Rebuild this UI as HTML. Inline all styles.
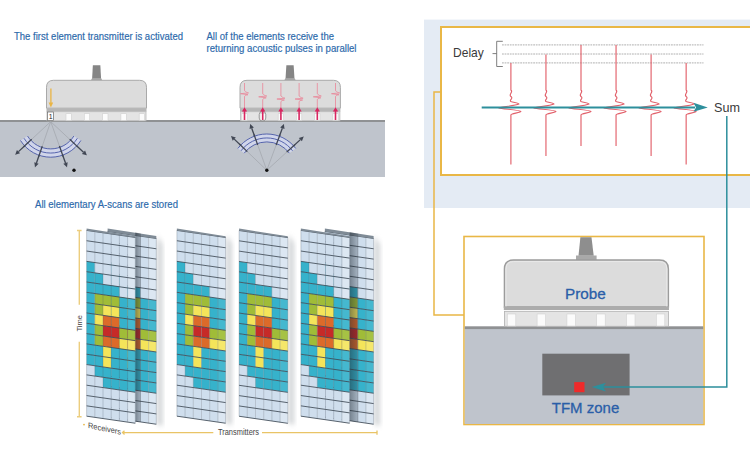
<!DOCTYPE html><html><head><meta charset="utf-8"><style>html,body{margin:0;padding:0;background:#fff;width:750px;height:474px;overflow:hidden;position:relative}</style></head><body><svg width="750" height="474" viewBox="0 0 750 474" style="position:absolute;left:0;top:0"><defs><marker id="ah" viewBox="0 0 10 10" refX="9" refY="5" markerWidth="4" markerHeight="4" orient="auto"><path d="M0,0 L10,5 L0,10 z" fill="#3d4350"/></marker><filter id="blur1" x="-50%" y="-10%" width="200%" height="120%"><feGaussianBlur stdDeviation="2.5"/></filter><linearGradient id="shg" x1="0" y1="0" x2="1" y2="0"><stop offset="0" stop-color="#1c2630" stop-opacity="0.5"/><stop offset="1" stop-color="#1c2630" stop-opacity="0.22"/></linearGradient></defs><text x="14" y="40.3" font-family='"Liberation Sans", sans-serif' font-size="10.7" fill="#2c69ab" stroke="#2c69ab" stroke-width="0.18" textLength="169" lengthAdjust="spacingAndGlyphs">The first element transmitter is activated</text><text x="206.5" y="40.2" font-family='"Liberation Sans", sans-serif' font-size="10.7" fill="#2c69ab" stroke="#2c69ab" stroke-width="0.18" textLength="127.5" lengthAdjust="spacingAndGlyphs">All of the elements receive the</text><text x="206.5" y="51.8" font-family='"Liberation Sans", sans-serif' font-size="10.7" fill="#2c69ab" stroke="#2c69ab" stroke-width="0.18" textLength="150" lengthAdjust="spacingAndGlyphs">returning acoustic pulses in parallel</text><rect x="0" y="121" width="385" height="56" fill="#bfc4cc"/><rect x="0" y="120" width="385" height="2" fill="#8f9193"/><path d="M92.85,65.2 L100.35,65.2 L101.05,78.3 L92.14999999999999,78.3 Z" fill="#858585"/><path d="M90.64999999999999,80.8 L92.14999999999999,78.1 L101.05,78.1 L102.55,80.8 Z" fill="#a4a4a4"/><path d="M46.5,108.2 L46.5,87.3 Q46.5,80.3 53.5,80.3 L139.5,80.3 Q146.5,80.3 146.5,87.3 L146.5,108.2 Z" fill="#dcdcdc" stroke="#a9a9a9" stroke-width="1"/><rect x="46.5" y="108.2" width="100" height="3.5" fill="#b6b6b6"/><rect x="47.0" y="111.7" width="99" height="9.099999999999994" fill="#e4e4e4" stroke="#b9b9b9" stroke-width="0.8"/><rect x="47.7" y="113.7" width="5.4" height="6.599999999999994" fill="#fbfbfb" stroke="#d0d0d0" stroke-width="0.6"/><rect x="66.0" y="113.7" width="5.4" height="6.599999999999994" fill="#fbfbfb" stroke="#d0d0d0" stroke-width="0.6"/><rect x="84.30000000000001" y="113.7" width="5.4" height="6.599999999999994" fill="#fbfbfb" stroke="#d0d0d0" stroke-width="0.6"/><rect x="102.60000000000001" y="113.7" width="5.4" height="6.599999999999994" fill="#fbfbfb" stroke="#d0d0d0" stroke-width="0.6"/><rect x="120.9" y="113.7" width="5.4" height="6.599999999999994" fill="#fbfbfb" stroke="#d0d0d0" stroke-width="0.6"/><rect x="139.2" y="113.7" width="5.4" height="6.599999999999994" fill="#fbfbfb" stroke="#d0d0d0" stroke-width="0.6"/><rect x="47.5" y="112" width="6" height="8.6" fill="#ffffff" stroke="#6a6a6a" stroke-width="0.7"/><text x="48.8" y="119.3" font-family='"Liberation Sans", sans-serif' font-size="7" fill="#222">1</text><line x1="50.9" y1="88.5" x2="50.9" y2="103" stroke="#eab545" stroke-width="1.3"/><path d="M48.6,102.5 L53.2,102.5 L50.9,107.5 Z" fill="#eab545"/><line x1="50.7" y1="121.6" x2="15.2" y2="154.7" stroke="#a3a7ae" stroke-width="0.75"/><line x1="30.95" y1="140.01" x2="18.49" y2="151.63" stroke="#414754" stroke-width="1.3"/><path d="M15.20,154.70 L16.92,149.95 L20.06,153.31 Z" fill="#414754"/><line x1="50.7" y1="121.6" x2="35" y2="167.3" stroke="#a3a7ae" stroke-width="0.75"/><line x1="41.93" y1="147.14" x2="36.46" y2="163.04" stroke="#414754" stroke-width="1.3"/><path d="M35.00,167.30 L34.29,162.30 L38.64,163.79 Z" fill="#414754"/><line x1="50.7" y1="121.6" x2="67" y2="167.3" stroke="#a3a7ae" stroke-width="0.75"/><line x1="59.77" y1="147.03" x2="65.49" y2="163.06" stroke="#414754" stroke-width="1.3"/><path d="M67.00,167.30 L63.32,163.83 L67.65,162.29 Z" fill="#414754"/><line x1="50.7" y1="121.6" x2="86.8" y2="155.3" stroke="#a3a7ae" stroke-width="0.75"/><line x1="70.44" y1="140.02" x2="83.51" y2="152.23" stroke="#414754" stroke-width="1.3"/><path d="M86.80,155.30 L81.94,153.91 L85.08,150.55 Z" fill="#414754"/><path d="M77.37,138.27 A31.450000000000003,31.450000000000003 0 0 1 24.03,138.27" fill="none" stroke="#d0d5ea" stroke-width="8.3"/><path d="M73.85,136.07 A27.3,27.3 0 0 1 27.55,136.07" fill="none" stroke="#4f5eaa" stroke-width="0.95"/><path d="M77.37,138.27 A31.450000000000003,31.450000000000003 0 0 1 24.03,138.27" fill="none" stroke="#4f5eaa" stroke-width="0.95"/><path d="M80.89,140.47 A35.6,35.6 0 0 1 20.51,140.47" fill="none" stroke="#4f5eaa" stroke-width="0.95"/><line x1="31.68" y1="139.33" x2="23.64" y2="146.83" stroke="#414754" stroke-width="1.3"/><line x1="42.25" y1="146.19" x2="38.68" y2="156.59" stroke="#414754" stroke-width="1.3"/><line x1="59.43" y1="146.09" x2="63.13" y2="156.45" stroke="#414754" stroke-width="1.3"/><line x1="69.71" y1="139.34" x2="77.75" y2="146.85" stroke="#414754" stroke-width="1.3"/><circle cx="74" cy="170.3" r="1.7" fill="#111"/><path d="M286.35,65.2 L293.65,65.2 L294.45,78.3 L285.55,78.3 Z" fill="#858585"/><path d="M284.05,80.8 L285.55,78.1 L294.45,78.1 L295.95,80.8 Z" fill="#a4a4a4"/><path d="M240,108.2 L240,87.3 Q240,80.3 247,80.3 L333.4,80.3 Q340.4,80.3 340.4,87.3 L340.4,108.2 Z" fill="#dcdcdc" stroke="#a9a9a9" stroke-width="1"/><rect x="240" y="108.2" width="100.4" height="3.5" fill="#b6b6b6"/><rect x="240.5" y="111.7" width="99.4" height="9.099999999999994" fill="#e4e4e4" stroke="#b9b9b9" stroke-width="0.8"/><rect x="241.8" y="113.7" width="5.4" height="6.599999999999994" fill="#fbfbfb" stroke="#d0d0d0" stroke-width="0.6"/><rect x="260.0" y="113.7" width="5.4" height="6.599999999999994" fill="#fbfbfb" stroke="#d0d0d0" stroke-width="0.6"/><rect x="278.2" y="113.7" width="5.4" height="6.599999999999994" fill="#fbfbfb" stroke="#d0d0d0" stroke-width="0.6"/><rect x="296.4" y="113.7" width="5.4" height="6.599999999999994" fill="#fbfbfb" stroke="#d0d0d0" stroke-width="0.6"/><rect x="314.6" y="113.7" width="5.4" height="6.599999999999994" fill="#fbfbfb" stroke="#d0d0d0" stroke-width="0.6"/><rect x="332.8" y="113.7" width="5.4" height="6.599999999999994" fill="#fbfbfb" stroke="#d0d0d0" stroke-width="0.6"/><rect x="259.2" y="111.5" width="6.6" height="9.5" rx="3" fill="none" stroke="#8c8c8c" stroke-width="0.8"/><path d="M244.5,83 L244.5,90.7 C246.0,91.7 246.5,92.7 248.5,92.9 L240.5,93.7 L248.0,94.7 C245.5,95.2 244.5,95.7 244.5,96.7 L244.5,108" fill="none" stroke="#e98a9c" stroke-width="0.85"/><path d="M241.9,111.6 L244.5,107.3 L247.1,111.6 Z" fill="#d92560"/><line x1="244.5" y1="110" x2="244.5" y2="120" stroke="#d92560" stroke-width="1.6"/><path d="M262.7,83 L262.7,93.8 C264.2,94.8 264.7,95.8 266.7,96.0 L258.7,96.8 L266.2,97.8 C263.7,98.3 262.7,98.8 262.7,99.8 L262.7,108" fill="none" stroke="#e98a9c" stroke-width="0.85"/><path d="M260.09999999999997,111.6 L262.7,107.3 L265.3,111.6 Z" fill="#d92560"/><line x1="262.7" y1="110" x2="262.7" y2="120" stroke="#d92560" stroke-width="1.6"/><path d="M280.9,83 L280.9,96 C282.4,97 282.9,98 284.9,98.2 L276.9,99 L284.4,100 C281.9,100.5 280.9,101 280.9,102 L280.9,108" fill="none" stroke="#e98a9c" stroke-width="0.85"/><path d="M278.29999999999995,111.6 L280.9,107.3 L283.5,111.6 Z" fill="#d92560"/><line x1="280.9" y1="110" x2="280.9" y2="120" stroke="#d92560" stroke-width="1.6"/><path d="M299.1,83 L299.1,96 C300.6,97 301.1,98 303.1,98.2 L295.1,99 L302.6,100 C300.1,100.5 299.1,101 299.1,102 L299.1,108" fill="none" stroke="#e98a9c" stroke-width="0.85"/><path d="M296.5,111.6 L299.1,107.3 L301.70000000000005,111.6 Z" fill="#d92560"/><line x1="299.1" y1="110" x2="299.1" y2="120" stroke="#d92560" stroke-width="1.6"/><path d="M317.3,83 L317.3,93.8 C318.8,94.8 319.3,95.8 321.3,96.0 L313.3,96.8 L320.8,97.8 C318.3,98.3 317.3,98.8 317.3,99.8 L317.3,108" fill="none" stroke="#e98a9c" stroke-width="0.85"/><path d="M314.7,111.6 L317.3,107.3 L319.90000000000003,111.6 Z" fill="#d92560"/><line x1="317.3" y1="110" x2="317.3" y2="120" stroke="#d92560" stroke-width="1.6"/><path d="M335.5,83 L335.5,90.7 C337.0,91.7 337.5,92.7 339.5,92.9 L331.5,93.7 L339.0,94.7 C336.5,95.2 335.5,95.7 335.5,96.7 L335.5,108" fill="none" stroke="#e98a9c" stroke-width="0.85"/><path d="M332.9,111.6 L335.5,107.3 L338.1,111.6 Z" fill="#d92560"/><line x1="335.5" y1="110" x2="335.5" y2="120" stroke="#d92560" stroke-width="1.6"/><line x1="266.8" y1="170.3" x2="231" y2="136" stroke="#a3a7ae" stroke-width="0.75"/><line x1="246.58" y1="150.93" x2="234.25" y2="139.11" stroke="#414754" stroke-width="1.3"/><path d="M231.00,136.00 L235.84,137.45 L232.66,140.77 Z" fill="#414754"/><line x1="266.8" y1="170.3" x2="250.2" y2="124" stroke="#a3a7ae" stroke-width="0.75"/><line x1="257.35" y1="143.94" x2="251.72" y2="128.24" stroke="#414754" stroke-width="1.3"/><path d="M250.20,124.00 L253.88,127.46 L249.55,129.01 Z" fill="#414754"/><line x1="266.8" y1="170.3" x2="283.9" y2="124" stroke="#a3a7ae" stroke-width="0.75"/><line x1="276.50" y1="144.03" x2="282.34" y2="128.22" stroke="#414754" stroke-width="1.3"/><path d="M283.90,124.00 L284.50,129.02 L280.18,127.42 Z" fill="#414754"/><line x1="266.8" y1="170.3" x2="303.7" y2="136.6" stroke="#a3a7ae" stroke-width="0.75"/><line x1="287.48" y1="151.42" x2="300.38" y2="139.63" stroke="#414754" stroke-width="1.3"/><path d="M303.70,136.60 L301.93,141.33 L298.83,137.94 Z" fill="#414754"/><path d="M241.04,150.79 A32.25,32.25 0 0 1 292.56,150.79" fill="none" stroke="#d0d5ea" stroke-width="7.900000000000002"/><path d="M244.20,153.17 A28.3,28.3 0 0 1 289.40,153.17" fill="none" stroke="#4f5eaa" stroke-width="0.95"/><path d="M241.04,150.79 A32.25,32.25 0 0 1 292.56,150.79" fill="none" stroke="#4f5eaa" stroke-width="0.95"/><path d="M237.89,148.41 A36.2,36.2 0 0 1 295.71,148.41" fill="none" stroke="#4f5eaa" stroke-width="0.95"/><line x1="247.30" y1="151.62" x2="239.36" y2="144.01" stroke="#414754" stroke-width="1.3"/><line x1="257.69" y1="144.88" x2="253.98" y2="134.53" stroke="#414754" stroke-width="1.3"/><line x1="276.15" y1="144.97" x2="279.97" y2="134.65" stroke="#414754" stroke-width="1.3"/><line x1="286.74" y1="152.09" x2="294.86" y2="144.67" stroke="#414754" stroke-width="1.3"/><circle cx="266.8" cy="170.3" r="1.7" fill="#111"/><rect x="424" y="19.6" width="326" height="188.4" fill="#e4ebf4"/><rect x="441" y="27" width="312" height="148" fill="#ffffff" stroke="#e9b746" stroke-width="2"/><text x="453" y="56.8" font-family='"Liberation Sans", sans-serif' font-size="13" fill="#3a3a3a" textLength="30.8" lengthAdjust="spacingAndGlyphs">Delay</text><path d="M502.8,41.3 L496.7,41.3 L496.7,66.5 L502.8,66.5 M496.7,53.6 L492.5,53.6" fill="none" stroke="#707070" stroke-width="0.9"/><line x1="502" y1="44.9" x2="703.5" y2="44.9" stroke="#9c9c9c" stroke-width="0.8" stroke-dasharray="1.8,0.8"/><line x1="502" y1="54" x2="703.5" y2="54" stroke="#9c9c9c" stroke-width="0.8" stroke-dasharray="1.8,0.8"/><line x1="502" y1="62.9" x2="703.5" y2="62.9" stroke="#9c9c9c" stroke-width="0.8" stroke-dasharray="1.8,0.8"/><path d="M510.9,63 L510.9,90 C513.6999999999999,92 508.09999999999997,94.5 510.9,96.5 C513.6999999999999,98.5 508.9,100 510.9,101.5 C513.9,102.5 518.9,103 518.9,104 C514.9,106 498.9,107 498.9,108 C500.9,109 520.9,110 520.9,111.5 C518.9,113 510.9,113.5 510.9,115 L510.9,164.6" fill="none" stroke="#e2616b" stroke-width="1.15"/><path d="M545.9499999999999,54.5 L545.9499999999999,90 C548.7499999999999,92 543.15,94.5 545.9499999999999,96.5 C548.7499999999999,98.5 543.9499999999999,100 545.9499999999999,101.5 C548.9499999999999,102.5 553.9499999999999,103 553.9499999999999,104 C549.9499999999999,106 533.9499999999999,107 533.9499999999999,108 C535.9499999999999,109 555.9499999999999,110 555.9499999999999,111.5 C553.9499999999999,113 545.9499999999999,113.5 545.9499999999999,115 L545.9499999999999,156" fill="none" stroke="#e2616b" stroke-width="1.15"/><path d="M581.0,45 L581.0,90 C583.8,92 578.2,94.5 581.0,96.5 C583.8,98.5 579.0,100 581.0,101.5 C584.0,102.5 589.0,103 589.0,104 C585.0,106 569.0,107 569.0,108 C571.0,109 591.0,110 591.0,111.5 C589.0,113 581.0,113.5 581.0,115 L581.0,146" fill="none" stroke="#e2616b" stroke-width="1.15"/><path d="M616.05,45 L616.05,90 C618.8499999999999,92 613.25,94.5 616.05,96.5 C618.8499999999999,98.5 614.05,100 616.05,101.5 C619.05,102.5 624.05,103 624.05,104 C620.05,106 604.05,107 604.05,108 C606.05,109 626.05,110 626.05,111.5 C624.05,113 616.05,113.5 616.05,115 L616.05,146" fill="none" stroke="#e2616b" stroke-width="1.15"/><path d="M651.0999999999999,54.5 L651.0999999999999,90 C653.8999999999999,92 648.3,94.5 651.0999999999999,96.5 C653.8999999999999,98.5 649.0999999999999,100 651.0999999999999,101.5 C654.0999999999999,102.5 659.0999999999999,103 659.0999999999999,104 C655.0999999999999,106 639.0999999999999,107 639.0999999999999,108 C641.0999999999999,109 661.0999999999999,110 661.0999999999999,111.5 C659.0999999999999,113 651.0999999999999,113.5 651.0999999999999,115 L651.0999999999999,156" fill="none" stroke="#e2616b" stroke-width="1.15"/><path d="M686.15,63 L686.15,90 C688.9499999999999,92 683.35,94.5 686.15,96.5 C688.9499999999999,98.5 684.15,100 686.15,101.5 C689.15,102.5 694.15,103 694.15,104 C690.15,106 674.15,107 674.15,108 C676.15,109 696.15,110 696.15,111.5 C694.15,113 686.15,113.5 686.15,115 L686.15,164.6" fill="none" stroke="#e2616b" stroke-width="1.15"/><line x1="481.7" y1="107.6" x2="695" y2="107.6" stroke="#2d8f9c" stroke-width="2"/><path d="M693.5,102.8 L707.8,107.4 L693.5,111.8 L696,107.4 Z" fill="#2d8f9c"/><text x="714" y="111.6" font-family='"Liberation Sans", sans-serif' font-size="12.6" fill="#3a3a3a">Sum</text><path d="M441,92 L434,92 L434,315 L464,315" fill="none" stroke="#e9b746" stroke-width="1.5"/><rect x="464" y="236.5" width="240" height="188" fill="#ffffff" stroke="#e9b746" stroke-width="1.6"/><rect x="464.8" y="327" width="238.4" height="97" fill="#bfc4cc"/><rect x="464.8" y="326.3" width="238.4" height="2.8" fill="#8f9193"/><path d="M580.4,237.3 L591.5,237.3 L593.7,255.8 L578.5,255.8 Z" fill="#8e8e8e"/><rect x="576" y="255.5" width="20.6" height="4.5" fill="#a9a9a9"/><path d="M504.4,307 L504.4,269 Q504.4,260 513.4,260 L659.4,260 Q668.4,260 668.4,269 L668.4,307 Z" fill="#dcdcdc" stroke="#9c9c9c" stroke-width="1.4"/><path d="M506.0,307 L506.0,269 Q506.0,261.6 513.4,261.6 L659.4,261.6 Q666.8,261.6 666.8,269 L666.8,307" fill="none" stroke="#ececec" stroke-width="0.8"/><rect x="503.79999999999995" y="306.5" width="165.2" height="3.5" fill="#acacac"/><rect x="504.4" y="311.3" width="164" height="15" fill="#e4e4e4" stroke="#b0b0b0" stroke-width="0.8"/><rect x="507.3" y="314" width="8.5" height="12" fill="#fbfbfb" stroke="#d2d2d2" stroke-width="0.6"/><rect x="537.1" y="314" width="8.5" height="12" fill="#fbfbfb" stroke="#d2d2d2" stroke-width="0.6"/><rect x="566.9" y="314" width="8.5" height="12" fill="#fbfbfb" stroke="#d2d2d2" stroke-width="0.6"/><rect x="596.7" y="314" width="8.5" height="12" fill="#fbfbfb" stroke="#d2d2d2" stroke-width="0.6"/><rect x="626.5" y="314" width="8.5" height="12" fill="#fbfbfb" stroke="#d2d2d2" stroke-width="0.6"/><rect x="656.3" y="314" width="8.5" height="12" fill="#fbfbfb" stroke="#d2d2d2" stroke-width="0.6"/><text x="565" y="298.5" font-family='"Liberation Sans", sans-serif' font-size="15.3" fill="#2a5ea8" stroke="#2a5ea8" stroke-width="0.3">Probe</text><rect x="542.3" y="353.7" width="87.3" height="41.7" fill="#6f6f71"/><rect x="574.2" y="382.1" width="10.3" height="10.1" fill="#ef2a2a"/><path d="M726.8,116 L726.8,386.9 L600,386.9" fill="none" stroke="#2d8f9c" stroke-width="1.5"/><path d="M591.7,387 L605.9,382.7 L603,387 L605.9,391.6 Z" fill="#2d8f9c"/><text x="551.8" y="413" font-family='"Liberation Sans", sans-serif' font-size="15.3" fill="#2a5ea8" stroke="#2a5ea8" stroke-width="0.3" textLength="67.5" lengthAdjust="spacingAndGlyphs">TFM zone</text><text x="35" y="208" font-family='"Liberation Sans", sans-serif' font-size="10.7" fill="#2c69ab" stroke="#2c69ab" stroke-width="0.18" textLength="143" lengthAdjust="spacingAndGlyphs">All elementary A-scans are stored</text><path d="M157.3,235.4 L162.3,244.4615 L162.3,426.2215 L157.3,424.2215 Z" fill="#9aa0a6" opacity="0.5" filter="url(#blur1)"/><path d="M107.60,231.40 L115.80,232.59 L115.80,242.91 L107.60,241.72 Z" fill="#cfdeed"/><path d="M115.80,232.59 L124.00,233.78 L124.00,244.10 L115.80,242.91 Z" fill="#cfdeed"/><path d="M124.00,233.78 L132.20,234.97 L132.20,245.29 L124.00,244.10 Z" fill="#cfdeed"/><path d="M132.20,234.97 L140.40,236.16 L140.40,246.48 L132.20,245.29 Z" fill="#cfdeed"/><path d="M140.40,236.16 L148.60,237.34 L148.60,247.66 L140.40,246.48 Z" fill="#cfdeed"/><path d="M148.60,237.34 L156.30,238.46 L156.30,248.78 L148.60,247.66 Z" fill="#dce7f2"/><path d="M107.60,241.72 L115.80,242.91 L115.80,253.23 L107.60,252.04 Z" fill="#cfdeed"/><path d="M115.80,242.91 L124.00,244.10 L124.00,254.42 L115.80,253.23 Z" fill="#cfdeed"/><path d="M124.00,244.10 L132.20,245.29 L132.20,255.61 L124.00,254.42 Z" fill="#cfdeed"/><path d="M132.20,245.29 L140.40,246.48 L140.40,256.80 L132.20,255.61 Z" fill="#cfdeed"/><path d="M140.40,246.48 L148.60,247.66 L148.60,257.99 L140.40,256.80 Z" fill="#cfdeed"/><path d="M148.60,247.66 L156.30,248.78 L156.30,259.10 L148.60,257.99 Z" fill="#dce7f2"/><path d="M107.60,252.04 L115.80,253.23 L115.80,263.55 L107.60,262.36 Z" fill="#cfdeed"/><path d="M115.80,253.23 L124.00,254.42 L124.00,264.74 L115.80,263.55 Z" fill="#cfdeed"/><path d="M124.00,254.42 L132.20,255.61 L132.20,265.93 L124.00,264.74 Z" fill="#cfdeed"/><path d="M132.20,255.61 L140.40,256.80 L140.40,267.12 L132.20,265.93 Z" fill="#cfdeed"/><path d="M140.40,256.80 L148.60,257.99 L148.60,268.31 L140.40,267.12 Z" fill="#cfdeed"/><path d="M148.60,257.99 L156.30,259.10 L156.30,269.42 L148.60,268.31 Z" fill="#dce7f2"/><path d="M107.60,262.36 L115.80,263.55 L115.80,273.87 L107.60,272.68 Z" fill="#36b2cb"/><path d="M115.80,263.55 L124.00,264.74 L124.00,275.06 L115.80,273.87 Z" fill="#cfdeed"/><path d="M124.00,264.74 L132.20,265.93 L132.20,276.25 L124.00,275.06 Z" fill="#cfdeed"/><path d="M132.20,265.93 L140.40,267.12 L140.40,277.44 L132.20,276.25 Z" fill="#cfdeed"/><path d="M140.40,267.12 L148.60,268.31 L148.60,278.62 L140.40,277.44 Z" fill="#cfdeed"/><path d="M148.60,268.31 L156.30,269.42 L156.30,279.74 L148.60,278.62 Z" fill="#dce7f2"/><path d="M107.60,272.68 L115.80,273.87 L115.80,284.19 L107.60,283.00 Z" fill="#36b2cb"/><path d="M115.80,273.87 L124.00,275.06 L124.00,285.38 L115.80,284.19 Z" fill="#36b2cb"/><path d="M124.00,275.06 L132.20,276.25 L132.20,286.57 L124.00,285.38 Z" fill="#cfdeed"/><path d="M132.20,276.25 L140.40,277.44 L140.40,287.76 L132.20,286.57 Z" fill="#cfdeed"/><path d="M140.40,277.44 L148.60,278.62 L148.60,288.94 L140.40,287.76 Z" fill="#cfdeed"/><path d="M148.60,278.62 L156.30,279.74 L156.30,290.06 L148.60,288.94 Z" fill="#dce7f2"/><path d="M107.60,283.00 L115.80,284.19 L115.80,294.51 L107.60,293.32 Z" fill="#36b2cb"/><path d="M115.80,284.19 L124.00,285.38 L124.00,295.70 L115.80,294.51 Z" fill="#36b2cb"/><path d="M124.00,285.38 L132.20,286.57 L132.20,296.89 L124.00,295.70 Z" fill="#36b2cb"/><path d="M132.20,286.57 L140.40,287.76 L140.40,298.08 L132.20,296.89 Z" fill="#36b2cb"/><path d="M140.40,287.76 L148.60,288.94 L148.60,299.26 L140.40,298.08 Z" fill="#cfdeed"/><path d="M148.60,288.94 L156.30,290.06 L156.30,300.38 L148.60,299.26 Z" fill="#dce7f2"/><path d="M107.60,293.32 L115.80,294.51 L115.80,304.83 L107.60,303.64 Z" fill="#36b2cb"/><path d="M115.80,294.51 L124.00,295.70 L124.00,306.02 L115.80,304.83 Z" fill="#a0bc38"/><path d="M124.00,295.70 L132.20,296.89 L132.20,307.21 L124.00,306.02 Z" fill="#a0bc38"/><path d="M132.20,296.89 L140.40,298.08 L140.40,308.40 L132.20,307.21 Z" fill="#a0bc38"/><path d="M140.40,298.08 L148.60,299.26 L148.60,309.58 L140.40,308.40 Z" fill="#36b2cb"/><path d="M148.60,299.26 L156.30,300.38 L156.30,310.70 L148.60,309.58 Z" fill="#45b8cf"/><path d="M107.60,303.64 L115.80,304.83 L115.80,315.15 L107.60,313.96 Z" fill="#36b2cb"/><path d="M115.80,304.83 L124.00,306.02 L124.00,316.34 L115.80,315.15 Z" fill="#a0bc38"/><path d="M124.00,306.02 L132.20,307.21 L132.20,317.53 L124.00,316.34 Z" fill="#f4e45a"/><path d="M132.20,307.21 L140.40,308.40 L140.40,318.72 L132.20,317.53 Z" fill="#f4e45a"/><path d="M140.40,308.40 L148.60,309.58 L148.60,319.90 L140.40,318.72 Z" fill="#36b2cb"/><path d="M148.60,309.58 L156.30,310.70 L156.30,321.02 L148.60,319.90 Z" fill="#45b8cf"/><path d="M107.60,313.96 L115.80,315.15 L115.80,325.47 L107.60,324.28 Z" fill="#36b2cb"/><path d="M115.80,315.15 L124.00,316.34 L124.00,326.66 L115.80,325.47 Z" fill="#f4e45a"/><path d="M124.00,316.34 L132.20,317.53 L132.20,327.85 L124.00,326.66 Z" fill="#dc6a2a"/><path d="M132.20,317.53 L140.40,318.72 L140.40,329.04 L132.20,327.85 Z" fill="#dc6a2a"/><path d="M140.40,318.72 L148.60,319.91 L148.60,330.23 L140.40,329.04 Z" fill="#36b2cb"/><path d="M148.60,319.91 L156.30,321.02 L156.30,331.34 L148.60,330.23 Z" fill="#45b8cf"/><path d="M107.60,324.28 L115.80,325.47 L115.80,335.79 L107.60,334.60 Z" fill="#36b2cb"/><path d="M115.80,325.47 L124.00,326.66 L124.00,336.98 L115.80,335.79 Z" fill="#a0bc38"/><path d="M124.00,326.66 L132.20,327.85 L132.20,338.17 L124.00,336.98 Z" fill="#c62a28"/><path d="M132.20,327.85 L140.40,329.04 L140.40,339.36 L132.20,338.17 Z" fill="#c62a28"/><path d="M140.40,329.04 L148.60,330.22 L148.60,340.54 L140.40,339.36 Z" fill="#a0bc38"/><path d="M148.60,330.22 L156.30,331.34 L156.30,341.66 L148.60,340.54 Z" fill="#a6c244"/><path d="M107.60,334.60 L115.80,335.79 L115.80,346.11 L107.60,344.92 Z" fill="#36b2cb"/><path d="M115.80,335.79 L124.00,336.98 L124.00,347.30 L115.80,346.11 Z" fill="#a0bc38"/><path d="M124.00,336.98 L132.20,338.17 L132.20,348.49 L124.00,347.30 Z" fill="#dc6a2a"/><path d="M132.20,338.17 L140.40,339.36 L140.40,349.68 L132.20,348.49 Z" fill="#dc6a2a"/><path d="M140.40,339.36 L148.60,340.55 L148.60,350.87 L140.40,349.68 Z" fill="#f4e45a"/><path d="M148.60,340.55 L156.30,341.66 L156.30,351.98 L148.60,350.87 Z" fill="#f5e76a"/><path d="M107.60,344.92 L115.80,346.11 L115.80,356.43 L107.60,355.24 Z" fill="#36b2cb"/><path d="M115.80,346.11 L124.00,347.30 L124.00,357.62 L115.80,356.43 Z" fill="#36b2cb"/><path d="M124.00,347.30 L132.20,348.49 L132.20,358.81 L124.00,357.62 Z" fill="#f4e45a"/><path d="M132.20,348.49 L140.40,349.68 L140.40,360.00 L132.20,358.81 Z" fill="#36b2cb"/><path d="M140.40,349.68 L148.60,350.87 L148.60,361.19 L140.40,360.00 Z" fill="#36b2cb"/><path d="M148.60,350.87 L156.30,351.98 L156.30,362.30 L148.60,361.19 Z" fill="#45b8cf"/><path d="M107.60,355.24 L115.80,356.43 L115.80,366.75 L107.60,365.56 Z" fill="#36b2cb"/><path d="M115.80,356.43 L124.00,357.62 L124.00,367.94 L115.80,366.75 Z" fill="#36b2cb"/><path d="M124.00,357.62 L132.20,358.81 L132.20,369.13 L124.00,367.94 Z" fill="#f4e45a"/><path d="M132.20,358.81 L140.40,360.00 L140.40,370.32 L132.20,369.13 Z" fill="#36b2cb"/><path d="M140.40,360.00 L148.60,361.19 L148.60,371.50 L140.40,370.32 Z" fill="#36b2cb"/><path d="M148.60,361.19 L156.30,362.30 L156.30,372.62 L148.60,371.50 Z" fill="#45b8cf"/><path d="M107.60,365.56 L115.80,366.75 L115.80,377.07 L107.60,375.88 Z" fill="#cfdeed"/><path d="M115.80,366.75 L124.00,367.94 L124.00,378.26 L115.80,377.07 Z" fill="#36b2cb"/><path d="M124.00,367.94 L132.20,369.13 L132.20,379.45 L124.00,378.26 Z" fill="#36b2cb"/><path d="M132.20,369.13 L140.40,370.32 L140.40,380.64 L132.20,379.45 Z" fill="#36b2cb"/><path d="M140.40,370.32 L148.60,371.50 L148.60,381.82 L140.40,380.64 Z" fill="#36b2cb"/><path d="M148.60,371.50 L156.30,372.62 L156.30,382.94 L148.60,381.82 Z" fill="#45b8cf"/><path d="M107.60,375.88 L115.80,377.07 L115.80,387.39 L107.60,386.20 Z" fill="#cfdeed"/><path d="M115.80,377.07 L124.00,378.26 L124.00,388.58 L115.80,387.39 Z" fill="#cfdeed"/><path d="M124.00,378.26 L132.20,379.45 L132.20,389.77 L124.00,388.58 Z" fill="#36b2cb"/><path d="M132.20,379.45 L140.40,380.64 L140.40,390.96 L132.20,389.77 Z" fill="#36b2cb"/><path d="M140.40,380.64 L148.60,381.82 L148.60,392.14 L140.40,390.96 Z" fill="#36b2cb"/><path d="M148.60,381.82 L156.30,382.94 L156.30,393.26 L148.60,392.14 Z" fill="#45b8cf"/><path d="M107.60,386.20 L115.80,387.39 L115.80,397.71 L107.60,396.52 Z" fill="#cfdeed"/><path d="M115.80,387.39 L124.00,388.58 L124.00,398.90 L115.80,397.71 Z" fill="#cfdeed"/><path d="M124.00,388.58 L132.20,389.77 L132.20,400.09 L124.00,398.90 Z" fill="#cfdeed"/><path d="M132.20,389.77 L140.40,390.96 L140.40,401.28 L132.20,400.09 Z" fill="#cfdeed"/><path d="M140.40,390.96 L148.60,392.15 L148.60,402.47 L140.40,401.28 Z" fill="#cfdeed"/><path d="M148.60,392.15 L156.30,393.26 L156.30,403.58 L148.60,402.47 Z" fill="#dce7f2"/><path d="M107.60,396.52 L115.80,397.71 L115.80,408.03 L107.60,406.84 Z" fill="#cfdeed"/><path d="M115.80,397.71 L124.00,398.90 L124.00,409.22 L115.80,408.03 Z" fill="#cfdeed"/><path d="M124.00,398.90 L132.20,400.09 L132.20,410.41 L124.00,409.22 Z" fill="#cfdeed"/><path d="M132.20,400.09 L140.40,401.28 L140.40,411.60 L132.20,410.41 Z" fill="#cfdeed"/><path d="M140.40,401.28 L148.60,402.46 L148.60,412.78 L140.40,411.60 Z" fill="#cfdeed"/><path d="M148.60,402.46 L156.30,403.58 L156.30,413.90 L148.60,412.78 Z" fill="#dce7f2"/><path d="M107.60,406.84 L115.80,408.03 L115.80,418.35 L107.60,417.16 Z" fill="#cfdeed"/><path d="M115.80,408.03 L124.00,409.22 L124.00,419.54 L115.80,418.35 Z" fill="#cfdeed"/><path d="M124.00,409.22 L132.20,410.41 L132.20,420.73 L124.00,419.54 Z" fill="#cfdeed"/><path d="M132.20,410.41 L140.40,411.60 L140.40,421.92 L132.20,420.73 Z" fill="#cfdeed"/><path d="M140.40,411.60 L148.60,412.79 L148.60,423.11 L140.40,421.92 Z" fill="#cfdeed"/><path d="M148.60,412.79 L156.30,413.90 L156.30,424.22 L148.60,423.11 Z" fill="#dce7f2"/><line x1="107.60" y1="231.40" x2="156.30" y2="238.46" stroke="#3e4a56" stroke-width="1.0" stroke-opacity="0.85"/><line x1="107.60" y1="241.72" x2="156.30" y2="248.78" stroke="#3e4a56" stroke-width="1.0" stroke-opacity="0.85"/><line x1="107.60" y1="252.04" x2="156.30" y2="259.10" stroke="#3e4a56" stroke-width="1.0" stroke-opacity="0.85"/><line x1="107.60" y1="262.36" x2="156.30" y2="269.42" stroke="#3e4a56" stroke-width="1.0" stroke-opacity="0.85"/><line x1="107.60" y1="272.68" x2="156.30" y2="279.74" stroke="#3e4a56" stroke-width="1.0" stroke-opacity="0.85"/><line x1="107.60" y1="283.00" x2="156.30" y2="290.06" stroke="#3e4a56" stroke-width="1.0" stroke-opacity="0.85"/><line x1="107.60" y1="293.32" x2="156.30" y2="300.38" stroke="#3e4a56" stroke-width="1.0" stroke-opacity="0.85"/><line x1="107.60" y1="303.64" x2="156.30" y2="310.70" stroke="#3e4a56" stroke-width="1.0" stroke-opacity="0.85"/><line x1="107.60" y1="313.96" x2="156.30" y2="321.02" stroke="#3e4a56" stroke-width="1.0" stroke-opacity="0.85"/><line x1="107.60" y1="324.28" x2="156.30" y2="331.34" stroke="#3e4a56" stroke-width="1.0" stroke-opacity="0.85"/><line x1="107.60" y1="334.60" x2="156.30" y2="341.66" stroke="#3e4a56" stroke-width="1.0" stroke-opacity="0.85"/><line x1="107.60" y1="344.92" x2="156.30" y2="351.98" stroke="#3e4a56" stroke-width="1.0" stroke-opacity="0.85"/><line x1="107.60" y1="355.24" x2="156.30" y2="362.30" stroke="#3e4a56" stroke-width="1.0" stroke-opacity="0.85"/><line x1="107.60" y1="365.56" x2="156.30" y2="372.62" stroke="#3e4a56" stroke-width="1.0" stroke-opacity="0.85"/><line x1="107.60" y1="375.88" x2="156.30" y2="382.94" stroke="#3e4a56" stroke-width="1.0" stroke-opacity="0.85"/><line x1="107.60" y1="386.20" x2="156.30" y2="393.26" stroke="#3e4a56" stroke-width="1.0" stroke-opacity="0.85"/><line x1="107.60" y1="396.52" x2="156.30" y2="403.58" stroke="#3e4a56" stroke-width="1.0" stroke-opacity="0.85"/><line x1="107.60" y1="406.84" x2="156.30" y2="413.90" stroke="#3e4a56" stroke-width="1.0" stroke-opacity="0.85"/><line x1="107.60" y1="417.16" x2="156.30" y2="424.22" stroke="#3e4a56" stroke-width="1.0" stroke-opacity="0.85"/><line x1="107.60" y1="231.40" x2="107.60" y2="417.16" stroke="#4a5866" stroke-width="0.5" stroke-opacity="0.5"/><line x1="115.80" y1="232.59" x2="115.80" y2="418.35" stroke="#4a5866" stroke-width="0.5" stroke-opacity="0.5"/><line x1="124.00" y1="233.78" x2="124.00" y2="419.54" stroke="#4a5866" stroke-width="0.5" stroke-opacity="0.5"/><line x1="132.20" y1="234.97" x2="132.20" y2="420.73" stroke="#4a5866" stroke-width="0.5" stroke-opacity="0.5"/><line x1="140.40" y1="236.16" x2="140.40" y2="421.92" stroke="#4a5866" stroke-width="0.5" stroke-opacity="0.5"/><line x1="148.60" y1="237.34" x2="148.60" y2="423.10" stroke="#4a5866" stroke-width="0.5" stroke-opacity="0.5"/><line x1="156.30" y1="238.46" x2="156.30" y2="424.22" stroke="#4a5866" stroke-width="0.5" stroke-opacity="0.5"/><path d="M107.60,228.60 L156.30,236.06 L156.30,238.46 L107.60,231.40 Z" fill="#7f8b96"/><path d="M135.30,232.62 L141.00,233.44 L141.00,422.00 L135.30,421.18 Z" fill="url(#shg)"/><path d="M86.60,230.40 L94.80,231.59 L94.80,241.91 L86.60,240.72 Z" fill="#cfdeed"/><path d="M94.80,231.59 L103.00,232.78 L103.00,243.10 L94.80,241.91 Z" fill="#cfdeed"/><path d="M103.00,232.78 L111.20,233.97 L111.20,244.29 L103.00,243.10 Z" fill="#cfdeed"/><path d="M111.20,233.97 L119.40,235.16 L119.40,245.48 L111.20,244.29 Z" fill="#cfdeed"/><path d="M119.40,235.16 L127.60,236.34 L127.60,246.66 L119.40,245.48 Z" fill="#cfdeed"/><path d="M127.60,236.34 L135.30,237.46 L135.30,247.78 L127.60,246.66 Z" fill="#dce7f2"/><path d="M86.60,240.72 L94.80,241.91 L94.80,252.23 L86.60,251.04 Z" fill="#cfdeed"/><path d="M94.80,241.91 L103.00,243.10 L103.00,253.42 L94.80,252.23 Z" fill="#cfdeed"/><path d="M103.00,243.10 L111.20,244.29 L111.20,254.61 L103.00,253.42 Z" fill="#cfdeed"/><path d="M111.20,244.29 L119.40,245.48 L119.40,255.80 L111.20,254.61 Z" fill="#cfdeed"/><path d="M119.40,245.48 L127.60,246.66 L127.60,256.99 L119.40,255.80 Z" fill="#cfdeed"/><path d="M127.60,246.66 L135.30,247.78 L135.30,258.10 L127.60,256.99 Z" fill="#dce7f2"/><path d="M86.60,251.04 L94.80,252.23 L94.80,262.55 L86.60,261.36 Z" fill="#cfdeed"/><path d="M94.80,252.23 L103.00,253.42 L103.00,263.74 L94.80,262.55 Z" fill="#cfdeed"/><path d="M103.00,253.42 L111.20,254.61 L111.20,264.93 L103.00,263.74 Z" fill="#cfdeed"/><path d="M111.20,254.61 L119.40,255.80 L119.40,266.12 L111.20,264.93 Z" fill="#cfdeed"/><path d="M119.40,255.80 L127.60,256.99 L127.60,267.31 L119.40,266.12 Z" fill="#cfdeed"/><path d="M127.60,256.99 L135.30,258.10 L135.30,268.42 L127.60,267.31 Z" fill="#dce7f2"/><path d="M86.60,261.36 L94.80,262.55 L94.80,272.87 L86.60,271.68 Z" fill="#36b2cb"/><path d="M94.80,262.55 L103.00,263.74 L103.00,274.06 L94.80,272.87 Z" fill="#cfdeed"/><path d="M103.00,263.74 L111.20,264.93 L111.20,275.25 L103.00,274.06 Z" fill="#cfdeed"/><path d="M111.20,264.93 L119.40,266.12 L119.40,276.44 L111.20,275.25 Z" fill="#cfdeed"/><path d="M119.40,266.12 L127.60,267.31 L127.60,277.62 L119.40,276.44 Z" fill="#cfdeed"/><path d="M127.60,267.31 L135.30,268.42 L135.30,278.74 L127.60,277.62 Z" fill="#dce7f2"/><path d="M86.60,271.68 L94.80,272.87 L94.80,283.19 L86.60,282.00 Z" fill="#36b2cb"/><path d="M94.80,272.87 L103.00,274.06 L103.00,284.38 L94.80,283.19 Z" fill="#36b2cb"/><path d="M103.00,274.06 L111.20,275.25 L111.20,285.57 L103.00,284.38 Z" fill="#cfdeed"/><path d="M111.20,275.25 L119.40,276.44 L119.40,286.76 L111.20,285.57 Z" fill="#cfdeed"/><path d="M119.40,276.44 L127.60,277.62 L127.60,287.94 L119.40,286.76 Z" fill="#cfdeed"/><path d="M127.60,277.62 L135.30,278.74 L135.30,289.06 L127.60,287.94 Z" fill="#dce7f2"/><path d="M86.60,282.00 L94.80,283.19 L94.80,293.51 L86.60,292.32 Z" fill="#36b2cb"/><path d="M94.80,283.19 L103.00,284.38 L103.00,294.70 L94.80,293.51 Z" fill="#36b2cb"/><path d="M103.00,284.38 L111.20,285.57 L111.20,295.89 L103.00,294.70 Z" fill="#36b2cb"/><path d="M111.20,285.57 L119.40,286.76 L119.40,297.08 L111.20,295.89 Z" fill="#36b2cb"/><path d="M119.40,286.76 L127.60,287.94 L127.60,298.26 L119.40,297.08 Z" fill="#cfdeed"/><path d="M127.60,287.94 L135.30,289.06 L135.30,299.38 L127.60,298.26 Z" fill="#dce7f2"/><path d="M86.60,292.32 L94.80,293.51 L94.80,303.83 L86.60,302.64 Z" fill="#36b2cb"/><path d="M94.80,293.51 L103.00,294.70 L103.00,305.02 L94.80,303.83 Z" fill="#a0bc38"/><path d="M103.00,294.70 L111.20,295.89 L111.20,306.21 L103.00,305.02 Z" fill="#a0bc38"/><path d="M111.20,295.89 L119.40,297.08 L119.40,307.40 L111.20,306.21 Z" fill="#a0bc38"/><path d="M119.40,297.08 L127.60,298.26 L127.60,308.58 L119.40,307.40 Z" fill="#36b2cb"/><path d="M127.60,298.26 L135.30,299.38 L135.30,309.70 L127.60,308.58 Z" fill="#45b8cf"/><path d="M86.60,302.64 L94.80,303.83 L94.80,314.15 L86.60,312.96 Z" fill="#36b2cb"/><path d="M94.80,303.83 L103.00,305.02 L103.00,315.34 L94.80,314.15 Z" fill="#a0bc38"/><path d="M103.00,305.02 L111.20,306.21 L111.20,316.53 L103.00,315.34 Z" fill="#f4e45a"/><path d="M111.20,306.21 L119.40,307.40 L119.40,317.72 L111.20,316.53 Z" fill="#f4e45a"/><path d="M119.40,307.40 L127.60,308.58 L127.60,318.90 L119.40,317.72 Z" fill="#36b2cb"/><path d="M127.60,308.58 L135.30,309.70 L135.30,320.02 L127.60,318.90 Z" fill="#45b8cf"/><path d="M86.60,312.96 L94.80,314.15 L94.80,324.47 L86.60,323.28 Z" fill="#36b2cb"/><path d="M94.80,314.15 L103.00,315.34 L103.00,325.66 L94.80,324.47 Z" fill="#f4e45a"/><path d="M103.00,315.34 L111.20,316.53 L111.20,326.85 L103.00,325.66 Z" fill="#dc6a2a"/><path d="M111.20,316.53 L119.40,317.72 L119.40,328.04 L111.20,326.85 Z" fill="#dc6a2a"/><path d="M119.40,317.72 L127.60,318.91 L127.60,329.23 L119.40,328.04 Z" fill="#36b2cb"/><path d="M127.60,318.91 L135.30,320.02 L135.30,330.34 L127.60,329.23 Z" fill="#45b8cf"/><path d="M86.60,323.28 L94.80,324.47 L94.80,334.79 L86.60,333.60 Z" fill="#36b2cb"/><path d="M94.80,324.47 L103.00,325.66 L103.00,335.98 L94.80,334.79 Z" fill="#a0bc38"/><path d="M103.00,325.66 L111.20,326.85 L111.20,337.17 L103.00,335.98 Z" fill="#c62a28"/><path d="M111.20,326.85 L119.40,328.04 L119.40,338.36 L111.20,337.17 Z" fill="#c62a28"/><path d="M119.40,328.04 L127.60,329.22 L127.60,339.54 L119.40,338.36 Z" fill="#a0bc38"/><path d="M127.60,329.22 L135.30,330.34 L135.30,340.66 L127.60,339.54 Z" fill="#a6c244"/><path d="M86.60,333.60 L94.80,334.79 L94.80,345.11 L86.60,343.92 Z" fill="#36b2cb"/><path d="M94.80,334.79 L103.00,335.98 L103.00,346.30 L94.80,345.11 Z" fill="#a0bc38"/><path d="M103.00,335.98 L111.20,337.17 L111.20,347.49 L103.00,346.30 Z" fill="#dc6a2a"/><path d="M111.20,337.17 L119.40,338.36 L119.40,348.68 L111.20,347.49 Z" fill="#dc6a2a"/><path d="M119.40,338.36 L127.60,339.55 L127.60,349.87 L119.40,348.68 Z" fill="#f4e45a"/><path d="M127.60,339.55 L135.30,340.66 L135.30,350.98 L127.60,349.87 Z" fill="#f5e76a"/><path d="M86.60,343.92 L94.80,345.11 L94.80,355.43 L86.60,354.24 Z" fill="#36b2cb"/><path d="M94.80,345.11 L103.00,346.30 L103.00,356.62 L94.80,355.43 Z" fill="#36b2cb"/><path d="M103.00,346.30 L111.20,347.49 L111.20,357.81 L103.00,356.62 Z" fill="#f4e45a"/><path d="M111.20,347.49 L119.40,348.68 L119.40,359.00 L111.20,357.81 Z" fill="#36b2cb"/><path d="M119.40,348.68 L127.60,349.87 L127.60,360.19 L119.40,359.00 Z" fill="#36b2cb"/><path d="M127.60,349.87 L135.30,350.98 L135.30,361.30 L127.60,360.19 Z" fill="#45b8cf"/><path d="M86.60,354.24 L94.80,355.43 L94.80,365.75 L86.60,364.56 Z" fill="#36b2cb"/><path d="M94.80,355.43 L103.00,356.62 L103.00,366.94 L94.80,365.75 Z" fill="#36b2cb"/><path d="M103.00,356.62 L111.20,357.81 L111.20,368.13 L103.00,366.94 Z" fill="#f4e45a"/><path d="M111.20,357.81 L119.40,359.00 L119.40,369.32 L111.20,368.13 Z" fill="#36b2cb"/><path d="M119.40,359.00 L127.60,360.19 L127.60,370.50 L119.40,369.32 Z" fill="#36b2cb"/><path d="M127.60,360.19 L135.30,361.30 L135.30,371.62 L127.60,370.50 Z" fill="#45b8cf"/><path d="M86.60,364.56 L94.80,365.75 L94.80,376.07 L86.60,374.88 Z" fill="#cfdeed"/><path d="M94.80,365.75 L103.00,366.94 L103.00,377.26 L94.80,376.07 Z" fill="#36b2cb"/><path d="M103.00,366.94 L111.20,368.13 L111.20,378.45 L103.00,377.26 Z" fill="#36b2cb"/><path d="M111.20,368.13 L119.40,369.32 L119.40,379.64 L111.20,378.45 Z" fill="#36b2cb"/><path d="M119.40,369.32 L127.60,370.50 L127.60,380.82 L119.40,379.64 Z" fill="#36b2cb"/><path d="M127.60,370.50 L135.30,371.62 L135.30,381.94 L127.60,380.82 Z" fill="#45b8cf"/><path d="M86.60,374.88 L94.80,376.07 L94.80,386.39 L86.60,385.20 Z" fill="#cfdeed"/><path d="M94.80,376.07 L103.00,377.26 L103.00,387.58 L94.80,386.39 Z" fill="#cfdeed"/><path d="M103.00,377.26 L111.20,378.45 L111.20,388.77 L103.00,387.58 Z" fill="#36b2cb"/><path d="M111.20,378.45 L119.40,379.64 L119.40,389.96 L111.20,388.77 Z" fill="#36b2cb"/><path d="M119.40,379.64 L127.60,380.82 L127.60,391.14 L119.40,389.96 Z" fill="#36b2cb"/><path d="M127.60,380.82 L135.30,381.94 L135.30,392.26 L127.60,391.14 Z" fill="#45b8cf"/><path d="M86.60,385.20 L94.80,386.39 L94.80,396.71 L86.60,395.52 Z" fill="#cfdeed"/><path d="M94.80,386.39 L103.00,387.58 L103.00,397.90 L94.80,396.71 Z" fill="#cfdeed"/><path d="M103.00,387.58 L111.20,388.77 L111.20,399.09 L103.00,397.90 Z" fill="#cfdeed"/><path d="M111.20,388.77 L119.40,389.96 L119.40,400.28 L111.20,399.09 Z" fill="#cfdeed"/><path d="M119.40,389.96 L127.60,391.15 L127.60,401.47 L119.40,400.28 Z" fill="#cfdeed"/><path d="M127.60,391.15 L135.30,392.26 L135.30,402.58 L127.60,401.47 Z" fill="#dce7f2"/><path d="M86.60,395.52 L94.80,396.71 L94.80,407.03 L86.60,405.84 Z" fill="#cfdeed"/><path d="M94.80,396.71 L103.00,397.90 L103.00,408.22 L94.80,407.03 Z" fill="#cfdeed"/><path d="M103.00,397.90 L111.20,399.09 L111.20,409.41 L103.00,408.22 Z" fill="#cfdeed"/><path d="M111.20,399.09 L119.40,400.28 L119.40,410.60 L111.20,409.41 Z" fill="#cfdeed"/><path d="M119.40,400.28 L127.60,401.46 L127.60,411.78 L119.40,410.60 Z" fill="#cfdeed"/><path d="M127.60,401.46 L135.30,402.58 L135.30,412.90 L127.60,411.78 Z" fill="#dce7f2"/><path d="M86.60,405.84 L94.80,407.03 L94.80,417.35 L86.60,416.16 Z" fill="#cfdeed"/><path d="M94.80,407.03 L103.00,408.22 L103.00,418.54 L94.80,417.35 Z" fill="#cfdeed"/><path d="M103.00,408.22 L111.20,409.41 L111.20,419.73 L103.00,418.54 Z" fill="#cfdeed"/><path d="M111.20,409.41 L119.40,410.60 L119.40,420.92 L111.20,419.73 Z" fill="#cfdeed"/><path d="M119.40,410.60 L127.60,411.79 L127.60,422.11 L119.40,420.92 Z" fill="#cfdeed"/><path d="M127.60,411.79 L135.30,412.90 L135.30,423.22 L127.60,422.11 Z" fill="#dce7f2"/><line x1="86.60" y1="230.40" x2="135.30" y2="237.46" stroke="#3e4a56" stroke-width="1.0" stroke-opacity="0.85"/><line x1="86.60" y1="240.72" x2="135.30" y2="247.78" stroke="#3e4a56" stroke-width="1.0" stroke-opacity="0.85"/><line x1="86.60" y1="251.04" x2="135.30" y2="258.10" stroke="#3e4a56" stroke-width="1.0" stroke-opacity="0.85"/><line x1="86.60" y1="261.36" x2="135.30" y2="268.42" stroke="#3e4a56" stroke-width="1.0" stroke-opacity="0.85"/><line x1="86.60" y1="271.68" x2="135.30" y2="278.74" stroke="#3e4a56" stroke-width="1.0" stroke-opacity="0.85"/><line x1="86.60" y1="282.00" x2="135.30" y2="289.06" stroke="#3e4a56" stroke-width="1.0" stroke-opacity="0.85"/><line x1="86.60" y1="292.32" x2="135.30" y2="299.38" stroke="#3e4a56" stroke-width="1.0" stroke-opacity="0.85"/><line x1="86.60" y1="302.64" x2="135.30" y2="309.70" stroke="#3e4a56" stroke-width="1.0" stroke-opacity="0.85"/><line x1="86.60" y1="312.96" x2="135.30" y2="320.02" stroke="#3e4a56" stroke-width="1.0" stroke-opacity="0.85"/><line x1="86.60" y1="323.28" x2="135.30" y2="330.34" stroke="#3e4a56" stroke-width="1.0" stroke-opacity="0.85"/><line x1="86.60" y1="333.60" x2="135.30" y2="340.66" stroke="#3e4a56" stroke-width="1.0" stroke-opacity="0.85"/><line x1="86.60" y1="343.92" x2="135.30" y2="350.98" stroke="#3e4a56" stroke-width="1.0" stroke-opacity="0.85"/><line x1="86.60" y1="354.24" x2="135.30" y2="361.30" stroke="#3e4a56" stroke-width="1.0" stroke-opacity="0.85"/><line x1="86.60" y1="364.56" x2="135.30" y2="371.62" stroke="#3e4a56" stroke-width="1.0" stroke-opacity="0.85"/><line x1="86.60" y1="374.88" x2="135.30" y2="381.94" stroke="#3e4a56" stroke-width="1.0" stroke-opacity="0.85"/><line x1="86.60" y1="385.20" x2="135.30" y2="392.26" stroke="#3e4a56" stroke-width="1.0" stroke-opacity="0.85"/><line x1="86.60" y1="395.52" x2="135.30" y2="402.58" stroke="#3e4a56" stroke-width="1.0" stroke-opacity="0.85"/><line x1="86.60" y1="405.84" x2="135.30" y2="412.90" stroke="#3e4a56" stroke-width="1.0" stroke-opacity="0.85"/><line x1="86.60" y1="416.16" x2="135.30" y2="423.22" stroke="#3e4a56" stroke-width="1.0" stroke-opacity="0.85"/><line x1="86.60" y1="230.40" x2="86.60" y2="416.16" stroke="#4a5866" stroke-width="0.5" stroke-opacity="0.5"/><line x1="94.80" y1="231.59" x2="94.80" y2="417.35" stroke="#4a5866" stroke-width="0.5" stroke-opacity="0.5"/><line x1="103.00" y1="232.78" x2="103.00" y2="418.54" stroke="#4a5866" stroke-width="0.5" stroke-opacity="0.5"/><line x1="111.20" y1="233.97" x2="111.20" y2="419.73" stroke="#4a5866" stroke-width="0.5" stroke-opacity="0.5"/><line x1="119.40" y1="235.16" x2="119.40" y2="420.92" stroke="#4a5866" stroke-width="0.5" stroke-opacity="0.5"/><line x1="127.60" y1="236.34" x2="127.60" y2="422.10" stroke="#4a5866" stroke-width="0.5" stroke-opacity="0.5"/><line x1="135.30" y1="237.46" x2="135.30" y2="423.22" stroke="#4a5866" stroke-width="0.5" stroke-opacity="0.5"/><path d="M86.60,228.40 L135.30,236.26 L135.30,237.46 L86.60,230.40 Z" fill="#7f8b96"/><path d="M374.59999999999997,235.4 L379.59999999999997,244.4615 L379.59999999999997,426.2215 L374.59999999999997,424.2215 Z" fill="#9aa0a6" opacity="0.5" filter="url(#blur1)"/><path d="M324.90,231.40 L333.10,232.59 L333.10,242.91 L324.90,241.72 Z" fill="#cfdeed"/><path d="M333.10,232.59 L341.30,233.78 L341.30,244.10 L333.10,242.91 Z" fill="#cfdeed"/><path d="M341.30,233.78 L349.50,234.97 L349.50,245.29 L341.30,244.10 Z" fill="#cfdeed"/><path d="M349.50,234.97 L357.70,236.16 L357.70,246.48 L349.50,245.29 Z" fill="#cfdeed"/><path d="M357.70,236.16 L365.90,237.34 L365.90,247.66 L357.70,246.48 Z" fill="#cfdeed"/><path d="M365.90,237.34 L373.60,238.46 L373.60,248.78 L365.90,247.66 Z" fill="#dce7f2"/><path d="M324.90,241.72 L333.10,242.91 L333.10,253.23 L324.90,252.04 Z" fill="#cfdeed"/><path d="M333.10,242.91 L341.30,244.10 L341.30,254.42 L333.10,253.23 Z" fill="#cfdeed"/><path d="M341.30,244.10 L349.50,245.29 L349.50,255.61 L341.30,254.42 Z" fill="#cfdeed"/><path d="M349.50,245.29 L357.70,246.48 L357.70,256.80 L349.50,255.61 Z" fill="#cfdeed"/><path d="M357.70,246.48 L365.90,247.66 L365.90,257.99 L357.70,256.80 Z" fill="#cfdeed"/><path d="M365.90,247.66 L373.60,248.78 L373.60,259.10 L365.90,257.99 Z" fill="#dce7f2"/><path d="M324.90,252.04 L333.10,253.23 L333.10,263.55 L324.90,262.36 Z" fill="#cfdeed"/><path d="M333.10,253.23 L341.30,254.42 L341.30,264.74 L333.10,263.55 Z" fill="#cfdeed"/><path d="M341.30,254.42 L349.50,255.61 L349.50,265.93 L341.30,264.74 Z" fill="#cfdeed"/><path d="M349.50,255.61 L357.70,256.80 L357.70,267.12 L349.50,265.93 Z" fill="#cfdeed"/><path d="M357.70,256.80 L365.90,257.99 L365.90,268.31 L357.70,267.12 Z" fill="#cfdeed"/><path d="M365.90,257.99 L373.60,259.10 L373.60,269.42 L365.90,268.31 Z" fill="#dce7f2"/><path d="M324.90,262.36 L333.10,263.55 L333.10,273.87 L324.90,272.68 Z" fill="#36b2cb"/><path d="M333.10,263.55 L341.30,264.74 L341.30,275.06 L333.10,273.87 Z" fill="#cfdeed"/><path d="M341.30,264.74 L349.50,265.93 L349.50,276.25 L341.30,275.06 Z" fill="#cfdeed"/><path d="M349.50,265.93 L357.70,267.12 L357.70,277.44 L349.50,276.25 Z" fill="#cfdeed"/><path d="M357.70,267.12 L365.90,268.31 L365.90,278.62 L357.70,277.44 Z" fill="#cfdeed"/><path d="M365.90,268.31 L373.60,269.42 L373.60,279.74 L365.90,278.62 Z" fill="#dce7f2"/><path d="M324.90,272.68 L333.10,273.87 L333.10,284.19 L324.90,283.00 Z" fill="#36b2cb"/><path d="M333.10,273.87 L341.30,275.06 L341.30,285.38 L333.10,284.19 Z" fill="#36b2cb"/><path d="M341.30,275.06 L349.50,276.25 L349.50,286.57 L341.30,285.38 Z" fill="#cfdeed"/><path d="M349.50,276.25 L357.70,277.44 L357.70,287.76 L349.50,286.57 Z" fill="#cfdeed"/><path d="M357.70,277.44 L365.90,278.62 L365.90,288.94 L357.70,287.76 Z" fill="#cfdeed"/><path d="M365.90,278.62 L373.60,279.74 L373.60,290.06 L365.90,288.94 Z" fill="#dce7f2"/><path d="M324.90,283.00 L333.10,284.19 L333.10,294.51 L324.90,293.32 Z" fill="#36b2cb"/><path d="M333.10,284.19 L341.30,285.38 L341.30,295.70 L333.10,294.51 Z" fill="#36b2cb"/><path d="M341.30,285.38 L349.50,286.57 L349.50,296.89 L341.30,295.70 Z" fill="#36b2cb"/><path d="M349.50,286.57 L357.70,287.76 L357.70,298.08 L349.50,296.89 Z" fill="#36b2cb"/><path d="M357.70,287.76 L365.90,288.94 L365.90,299.26 L357.70,298.08 Z" fill="#cfdeed"/><path d="M365.90,288.94 L373.60,290.06 L373.60,300.38 L365.90,299.26 Z" fill="#dce7f2"/><path d="M324.90,293.32 L333.10,294.51 L333.10,304.83 L324.90,303.64 Z" fill="#36b2cb"/><path d="M333.10,294.51 L341.30,295.70 L341.30,306.02 L333.10,304.83 Z" fill="#a0bc38"/><path d="M341.30,295.70 L349.50,296.89 L349.50,307.21 L341.30,306.02 Z" fill="#a0bc38"/><path d="M349.50,296.89 L357.70,298.08 L357.70,308.40 L349.50,307.21 Z" fill="#a0bc38"/><path d="M357.70,298.08 L365.90,299.26 L365.90,309.58 L357.70,308.40 Z" fill="#36b2cb"/><path d="M365.90,299.26 L373.60,300.38 L373.60,310.70 L365.90,309.58 Z" fill="#45b8cf"/><path d="M324.90,303.64 L333.10,304.83 L333.10,315.15 L324.90,313.96 Z" fill="#36b2cb"/><path d="M333.10,304.83 L341.30,306.02 L341.30,316.34 L333.10,315.15 Z" fill="#a0bc38"/><path d="M341.30,306.02 L349.50,307.21 L349.50,317.53 L341.30,316.34 Z" fill="#f4e45a"/><path d="M349.50,307.21 L357.70,308.40 L357.70,318.72 L349.50,317.53 Z" fill="#f4e45a"/><path d="M357.70,308.40 L365.90,309.58 L365.90,319.90 L357.70,318.72 Z" fill="#36b2cb"/><path d="M365.90,309.58 L373.60,310.70 L373.60,321.02 L365.90,319.90 Z" fill="#45b8cf"/><path d="M324.90,313.96 L333.10,315.15 L333.10,325.47 L324.90,324.28 Z" fill="#36b2cb"/><path d="M333.10,315.15 L341.30,316.34 L341.30,326.66 L333.10,325.47 Z" fill="#f4e45a"/><path d="M341.30,316.34 L349.50,317.53 L349.50,327.85 L341.30,326.66 Z" fill="#dc6a2a"/><path d="M349.50,317.53 L357.70,318.72 L357.70,329.04 L349.50,327.85 Z" fill="#dc6a2a"/><path d="M357.70,318.72 L365.90,319.91 L365.90,330.23 L357.70,329.04 Z" fill="#36b2cb"/><path d="M365.90,319.91 L373.60,321.02 L373.60,331.34 L365.90,330.23 Z" fill="#45b8cf"/><path d="M324.90,324.28 L333.10,325.47 L333.10,335.79 L324.90,334.60 Z" fill="#36b2cb"/><path d="M333.10,325.47 L341.30,326.66 L341.30,336.98 L333.10,335.79 Z" fill="#a0bc38"/><path d="M341.30,326.66 L349.50,327.85 L349.50,338.17 L341.30,336.98 Z" fill="#c62a28"/><path d="M349.50,327.85 L357.70,329.04 L357.70,339.36 L349.50,338.17 Z" fill="#c62a28"/><path d="M357.70,329.04 L365.90,330.22 L365.90,340.54 L357.70,339.36 Z" fill="#a0bc38"/><path d="M365.90,330.22 L373.60,331.34 L373.60,341.66 L365.90,340.54 Z" fill="#a6c244"/><path d="M324.90,334.60 L333.10,335.79 L333.10,346.11 L324.90,344.92 Z" fill="#36b2cb"/><path d="M333.10,335.79 L341.30,336.98 L341.30,347.30 L333.10,346.11 Z" fill="#a0bc38"/><path d="M341.30,336.98 L349.50,338.17 L349.50,348.49 L341.30,347.30 Z" fill="#dc6a2a"/><path d="M349.50,338.17 L357.70,339.36 L357.70,349.68 L349.50,348.49 Z" fill="#dc6a2a"/><path d="M357.70,339.36 L365.90,340.55 L365.90,350.87 L357.70,349.68 Z" fill="#f4e45a"/><path d="M365.90,340.55 L373.60,341.66 L373.60,351.98 L365.90,350.87 Z" fill="#f5e76a"/><path d="M324.90,344.92 L333.10,346.11 L333.10,356.43 L324.90,355.24 Z" fill="#36b2cb"/><path d="M333.10,346.11 L341.30,347.30 L341.30,357.62 L333.10,356.43 Z" fill="#36b2cb"/><path d="M341.30,347.30 L349.50,348.49 L349.50,358.81 L341.30,357.62 Z" fill="#f4e45a"/><path d="M349.50,348.49 L357.70,349.68 L357.70,360.00 L349.50,358.81 Z" fill="#36b2cb"/><path d="M357.70,349.68 L365.90,350.87 L365.90,361.19 L357.70,360.00 Z" fill="#36b2cb"/><path d="M365.90,350.87 L373.60,351.98 L373.60,362.30 L365.90,361.19 Z" fill="#45b8cf"/><path d="M324.90,355.24 L333.10,356.43 L333.10,366.75 L324.90,365.56 Z" fill="#36b2cb"/><path d="M333.10,356.43 L341.30,357.62 L341.30,367.94 L333.10,366.75 Z" fill="#36b2cb"/><path d="M341.30,357.62 L349.50,358.81 L349.50,369.13 L341.30,367.94 Z" fill="#f4e45a"/><path d="M349.50,358.81 L357.70,360.00 L357.70,370.32 L349.50,369.13 Z" fill="#36b2cb"/><path d="M357.70,360.00 L365.90,361.19 L365.90,371.50 L357.70,370.32 Z" fill="#36b2cb"/><path d="M365.90,361.19 L373.60,362.30 L373.60,372.62 L365.90,371.50 Z" fill="#45b8cf"/><path d="M324.90,365.56 L333.10,366.75 L333.10,377.07 L324.90,375.88 Z" fill="#cfdeed"/><path d="M333.10,366.75 L341.30,367.94 L341.30,378.26 L333.10,377.07 Z" fill="#36b2cb"/><path d="M341.30,367.94 L349.50,369.13 L349.50,379.45 L341.30,378.26 Z" fill="#36b2cb"/><path d="M349.50,369.13 L357.70,370.32 L357.70,380.64 L349.50,379.45 Z" fill="#36b2cb"/><path d="M357.70,370.32 L365.90,371.50 L365.90,381.82 L357.70,380.64 Z" fill="#36b2cb"/><path d="M365.90,371.50 L373.60,372.62 L373.60,382.94 L365.90,381.82 Z" fill="#45b8cf"/><path d="M324.90,375.88 L333.10,377.07 L333.10,387.39 L324.90,386.20 Z" fill="#cfdeed"/><path d="M333.10,377.07 L341.30,378.26 L341.30,388.58 L333.10,387.39 Z" fill="#cfdeed"/><path d="M341.30,378.26 L349.50,379.45 L349.50,389.77 L341.30,388.58 Z" fill="#36b2cb"/><path d="M349.50,379.45 L357.70,380.64 L357.70,390.96 L349.50,389.77 Z" fill="#36b2cb"/><path d="M357.70,380.64 L365.90,381.82 L365.90,392.14 L357.70,390.96 Z" fill="#36b2cb"/><path d="M365.90,381.82 L373.60,382.94 L373.60,393.26 L365.90,392.14 Z" fill="#45b8cf"/><path d="M324.90,386.20 L333.10,387.39 L333.10,397.71 L324.90,396.52 Z" fill="#cfdeed"/><path d="M333.10,387.39 L341.30,388.58 L341.30,398.90 L333.10,397.71 Z" fill="#cfdeed"/><path d="M341.30,388.58 L349.50,389.77 L349.50,400.09 L341.30,398.90 Z" fill="#cfdeed"/><path d="M349.50,389.77 L357.70,390.96 L357.70,401.28 L349.50,400.09 Z" fill="#cfdeed"/><path d="M357.70,390.96 L365.90,392.15 L365.90,402.47 L357.70,401.28 Z" fill="#cfdeed"/><path d="M365.90,392.15 L373.60,393.26 L373.60,403.58 L365.90,402.47 Z" fill="#dce7f2"/><path d="M324.90,396.52 L333.10,397.71 L333.10,408.03 L324.90,406.84 Z" fill="#cfdeed"/><path d="M333.10,397.71 L341.30,398.90 L341.30,409.22 L333.10,408.03 Z" fill="#cfdeed"/><path d="M341.30,398.90 L349.50,400.09 L349.50,410.41 L341.30,409.22 Z" fill="#cfdeed"/><path d="M349.50,400.09 L357.70,401.28 L357.70,411.60 L349.50,410.41 Z" fill="#cfdeed"/><path d="M357.70,401.28 L365.90,402.46 L365.90,412.78 L357.70,411.60 Z" fill="#cfdeed"/><path d="M365.90,402.46 L373.60,403.58 L373.60,413.90 L365.90,412.78 Z" fill="#dce7f2"/><path d="M324.90,406.84 L333.10,408.03 L333.10,418.35 L324.90,417.16 Z" fill="#cfdeed"/><path d="M333.10,408.03 L341.30,409.22 L341.30,419.54 L333.10,418.35 Z" fill="#cfdeed"/><path d="M341.30,409.22 L349.50,410.41 L349.50,420.73 L341.30,419.54 Z" fill="#cfdeed"/><path d="M349.50,410.41 L357.70,411.60 L357.70,421.92 L349.50,420.73 Z" fill="#cfdeed"/><path d="M357.70,411.60 L365.90,412.79 L365.90,423.11 L357.70,421.92 Z" fill="#cfdeed"/><path d="M365.90,412.79 L373.60,413.90 L373.60,424.22 L365.90,423.11 Z" fill="#dce7f2"/><line x1="324.90" y1="231.40" x2="373.60" y2="238.46" stroke="#3e4a56" stroke-width="1.0" stroke-opacity="0.85"/><line x1="324.90" y1="241.72" x2="373.60" y2="248.78" stroke="#3e4a56" stroke-width="1.0" stroke-opacity="0.85"/><line x1="324.90" y1="252.04" x2="373.60" y2="259.10" stroke="#3e4a56" stroke-width="1.0" stroke-opacity="0.85"/><line x1="324.90" y1="262.36" x2="373.60" y2="269.42" stroke="#3e4a56" stroke-width="1.0" stroke-opacity="0.85"/><line x1="324.90" y1="272.68" x2="373.60" y2="279.74" stroke="#3e4a56" stroke-width="1.0" stroke-opacity="0.85"/><line x1="324.90" y1="283.00" x2="373.60" y2="290.06" stroke="#3e4a56" stroke-width="1.0" stroke-opacity="0.85"/><line x1="324.90" y1="293.32" x2="373.60" y2="300.38" stroke="#3e4a56" stroke-width="1.0" stroke-opacity="0.85"/><line x1="324.90" y1="303.64" x2="373.60" y2="310.70" stroke="#3e4a56" stroke-width="1.0" stroke-opacity="0.85"/><line x1="324.90" y1="313.96" x2="373.60" y2="321.02" stroke="#3e4a56" stroke-width="1.0" stroke-opacity="0.85"/><line x1="324.90" y1="324.28" x2="373.60" y2="331.34" stroke="#3e4a56" stroke-width="1.0" stroke-opacity="0.85"/><line x1="324.90" y1="334.60" x2="373.60" y2="341.66" stroke="#3e4a56" stroke-width="1.0" stroke-opacity="0.85"/><line x1="324.90" y1="344.92" x2="373.60" y2="351.98" stroke="#3e4a56" stroke-width="1.0" stroke-opacity="0.85"/><line x1="324.90" y1="355.24" x2="373.60" y2="362.30" stroke="#3e4a56" stroke-width="1.0" stroke-opacity="0.85"/><line x1="324.90" y1="365.56" x2="373.60" y2="372.62" stroke="#3e4a56" stroke-width="1.0" stroke-opacity="0.85"/><line x1="324.90" y1="375.88" x2="373.60" y2="382.94" stroke="#3e4a56" stroke-width="1.0" stroke-opacity="0.85"/><line x1="324.90" y1="386.20" x2="373.60" y2="393.26" stroke="#3e4a56" stroke-width="1.0" stroke-opacity="0.85"/><line x1="324.90" y1="396.52" x2="373.60" y2="403.58" stroke="#3e4a56" stroke-width="1.0" stroke-opacity="0.85"/><line x1="324.90" y1="406.84" x2="373.60" y2="413.90" stroke="#3e4a56" stroke-width="1.0" stroke-opacity="0.85"/><line x1="324.90" y1="417.16" x2="373.60" y2="424.22" stroke="#3e4a56" stroke-width="1.0" stroke-opacity="0.85"/><line x1="324.90" y1="231.40" x2="324.90" y2="417.16" stroke="#4a5866" stroke-width="0.5" stroke-opacity="0.5"/><line x1="333.10" y1="232.59" x2="333.10" y2="418.35" stroke="#4a5866" stroke-width="0.5" stroke-opacity="0.5"/><line x1="341.30" y1="233.78" x2="341.30" y2="419.54" stroke="#4a5866" stroke-width="0.5" stroke-opacity="0.5"/><line x1="349.50" y1="234.97" x2="349.50" y2="420.73" stroke="#4a5866" stroke-width="0.5" stroke-opacity="0.5"/><line x1="357.70" y1="236.16" x2="357.70" y2="421.92" stroke="#4a5866" stroke-width="0.5" stroke-opacity="0.5"/><line x1="365.90" y1="237.34" x2="365.90" y2="423.10" stroke="#4a5866" stroke-width="0.5" stroke-opacity="0.5"/><line x1="373.60" y1="238.46" x2="373.60" y2="424.22" stroke="#4a5866" stroke-width="0.5" stroke-opacity="0.5"/><path d="M324.90,228.60 L373.60,236.06 L373.60,238.46 L324.90,231.40 Z" fill="#7f8b96"/><path d="M349.60,232.18 L358.30,233.44 L358.30,422.00 L349.60,420.74 Z" fill="url(#shg)"/><path d="M300.90,230.40 L309.10,231.59 L309.10,241.91 L300.90,240.72 Z" fill="#cfdeed"/><path d="M309.10,231.59 L317.30,232.78 L317.30,243.10 L309.10,241.91 Z" fill="#cfdeed"/><path d="M317.30,232.78 L325.50,233.97 L325.50,244.29 L317.30,243.10 Z" fill="#cfdeed"/><path d="M325.50,233.97 L333.70,235.16 L333.70,245.48 L325.50,244.29 Z" fill="#cfdeed"/><path d="M333.70,235.16 L341.90,236.34 L341.90,246.66 L333.70,245.48 Z" fill="#cfdeed"/><path d="M341.90,236.34 L349.60,237.46 L349.60,247.78 L341.90,246.66 Z" fill="#dce7f2"/><path d="M300.90,240.72 L309.10,241.91 L309.10,252.23 L300.90,251.04 Z" fill="#cfdeed"/><path d="M309.10,241.91 L317.30,243.10 L317.30,253.42 L309.10,252.23 Z" fill="#cfdeed"/><path d="M317.30,243.10 L325.50,244.29 L325.50,254.61 L317.30,253.42 Z" fill="#cfdeed"/><path d="M325.50,244.29 L333.70,245.48 L333.70,255.80 L325.50,254.61 Z" fill="#cfdeed"/><path d="M333.70,245.48 L341.90,246.66 L341.90,256.99 L333.70,255.80 Z" fill="#cfdeed"/><path d="M341.90,246.66 L349.60,247.78 L349.60,258.10 L341.90,256.99 Z" fill="#dce7f2"/><path d="M300.90,251.04 L309.10,252.23 L309.10,262.55 L300.90,261.36 Z" fill="#cfdeed"/><path d="M309.10,252.23 L317.30,253.42 L317.30,263.74 L309.10,262.55 Z" fill="#cfdeed"/><path d="M317.30,253.42 L325.50,254.61 L325.50,264.93 L317.30,263.74 Z" fill="#cfdeed"/><path d="M325.50,254.61 L333.70,255.80 L333.70,266.12 L325.50,264.93 Z" fill="#cfdeed"/><path d="M333.70,255.80 L341.90,256.99 L341.90,267.31 L333.70,266.12 Z" fill="#cfdeed"/><path d="M341.90,256.99 L349.60,258.10 L349.60,268.42 L341.90,267.31 Z" fill="#dce7f2"/><path d="M300.90,261.36 L309.10,262.55 L309.10,272.87 L300.90,271.68 Z" fill="#36b2cb"/><path d="M309.10,262.55 L317.30,263.74 L317.30,274.06 L309.10,272.87 Z" fill="#cfdeed"/><path d="M317.30,263.74 L325.50,264.93 L325.50,275.25 L317.30,274.06 Z" fill="#cfdeed"/><path d="M325.50,264.93 L333.70,266.12 L333.70,276.44 L325.50,275.25 Z" fill="#cfdeed"/><path d="M333.70,266.12 L341.90,267.31 L341.90,277.62 L333.70,276.44 Z" fill="#cfdeed"/><path d="M341.90,267.31 L349.60,268.42 L349.60,278.74 L341.90,277.62 Z" fill="#dce7f2"/><path d="M300.90,271.68 L309.10,272.87 L309.10,283.19 L300.90,282.00 Z" fill="#36b2cb"/><path d="M309.10,272.87 L317.30,274.06 L317.30,284.38 L309.10,283.19 Z" fill="#36b2cb"/><path d="M317.30,274.06 L325.50,275.25 L325.50,285.57 L317.30,284.38 Z" fill="#cfdeed"/><path d="M325.50,275.25 L333.70,276.44 L333.70,286.76 L325.50,285.57 Z" fill="#cfdeed"/><path d="M333.70,276.44 L341.90,277.62 L341.90,287.94 L333.70,286.76 Z" fill="#cfdeed"/><path d="M341.90,277.62 L349.60,278.74 L349.60,289.06 L341.90,287.94 Z" fill="#dce7f2"/><path d="M300.90,282.00 L309.10,283.19 L309.10,293.51 L300.90,292.32 Z" fill="#36b2cb"/><path d="M309.10,283.19 L317.30,284.38 L317.30,294.70 L309.10,293.51 Z" fill="#36b2cb"/><path d="M317.30,284.38 L325.50,285.57 L325.50,295.89 L317.30,294.70 Z" fill="#36b2cb"/><path d="M325.50,285.57 L333.70,286.76 L333.70,297.08 L325.50,295.89 Z" fill="#36b2cb"/><path d="M333.70,286.76 L341.90,287.94 L341.90,298.26 L333.70,297.08 Z" fill="#cfdeed"/><path d="M341.90,287.94 L349.60,289.06 L349.60,299.38 L341.90,298.26 Z" fill="#dce7f2"/><path d="M300.90,292.32 L309.10,293.51 L309.10,303.83 L300.90,302.64 Z" fill="#36b2cb"/><path d="M309.10,293.51 L317.30,294.70 L317.30,305.02 L309.10,303.83 Z" fill="#a0bc38"/><path d="M317.30,294.70 L325.50,295.89 L325.50,306.21 L317.30,305.02 Z" fill="#a0bc38"/><path d="M325.50,295.89 L333.70,297.08 L333.70,307.40 L325.50,306.21 Z" fill="#a0bc38"/><path d="M333.70,297.08 L341.90,298.26 L341.90,308.58 L333.70,307.40 Z" fill="#36b2cb"/><path d="M341.90,298.26 L349.60,299.38 L349.60,309.70 L341.90,308.58 Z" fill="#45b8cf"/><path d="M300.90,302.64 L309.10,303.83 L309.10,314.15 L300.90,312.96 Z" fill="#36b2cb"/><path d="M309.10,303.83 L317.30,305.02 L317.30,315.34 L309.10,314.15 Z" fill="#a0bc38"/><path d="M317.30,305.02 L325.50,306.21 L325.50,316.53 L317.30,315.34 Z" fill="#f4e45a"/><path d="M325.50,306.21 L333.70,307.40 L333.70,317.72 L325.50,316.53 Z" fill="#f4e45a"/><path d="M333.70,307.40 L341.90,308.58 L341.90,318.90 L333.70,317.72 Z" fill="#36b2cb"/><path d="M341.90,308.58 L349.60,309.70 L349.60,320.02 L341.90,318.90 Z" fill="#45b8cf"/><path d="M300.90,312.96 L309.10,314.15 L309.10,324.47 L300.90,323.28 Z" fill="#36b2cb"/><path d="M309.10,314.15 L317.30,315.34 L317.30,325.66 L309.10,324.47 Z" fill="#f4e45a"/><path d="M317.30,315.34 L325.50,316.53 L325.50,326.85 L317.30,325.66 Z" fill="#dc6a2a"/><path d="M325.50,316.53 L333.70,317.72 L333.70,328.04 L325.50,326.85 Z" fill="#dc6a2a"/><path d="M333.70,317.72 L341.90,318.91 L341.90,329.23 L333.70,328.04 Z" fill="#36b2cb"/><path d="M341.90,318.91 L349.60,320.02 L349.60,330.34 L341.90,329.23 Z" fill="#45b8cf"/><path d="M300.90,323.28 L309.10,324.47 L309.10,334.79 L300.90,333.60 Z" fill="#36b2cb"/><path d="M309.10,324.47 L317.30,325.66 L317.30,335.98 L309.10,334.79 Z" fill="#a0bc38"/><path d="M317.30,325.66 L325.50,326.85 L325.50,337.17 L317.30,335.98 Z" fill="#c62a28"/><path d="M325.50,326.85 L333.70,328.04 L333.70,338.36 L325.50,337.17 Z" fill="#c62a28"/><path d="M333.70,328.04 L341.90,329.22 L341.90,339.54 L333.70,338.36 Z" fill="#a0bc38"/><path d="M341.90,329.22 L349.60,330.34 L349.60,340.66 L341.90,339.54 Z" fill="#a6c244"/><path d="M300.90,333.60 L309.10,334.79 L309.10,345.11 L300.90,343.92 Z" fill="#36b2cb"/><path d="M309.10,334.79 L317.30,335.98 L317.30,346.30 L309.10,345.11 Z" fill="#a0bc38"/><path d="M317.30,335.98 L325.50,337.17 L325.50,347.49 L317.30,346.30 Z" fill="#dc6a2a"/><path d="M325.50,337.17 L333.70,338.36 L333.70,348.68 L325.50,347.49 Z" fill="#dc6a2a"/><path d="M333.70,338.36 L341.90,339.55 L341.90,349.87 L333.70,348.68 Z" fill="#f4e45a"/><path d="M341.90,339.55 L349.60,340.66 L349.60,350.98 L341.90,349.87 Z" fill="#f5e76a"/><path d="M300.90,343.92 L309.10,345.11 L309.10,355.43 L300.90,354.24 Z" fill="#36b2cb"/><path d="M309.10,345.11 L317.30,346.30 L317.30,356.62 L309.10,355.43 Z" fill="#36b2cb"/><path d="M317.30,346.30 L325.50,347.49 L325.50,357.81 L317.30,356.62 Z" fill="#f4e45a"/><path d="M325.50,347.49 L333.70,348.68 L333.70,359.00 L325.50,357.81 Z" fill="#36b2cb"/><path d="M333.70,348.68 L341.90,349.87 L341.90,360.19 L333.70,359.00 Z" fill="#36b2cb"/><path d="M341.90,349.87 L349.60,350.98 L349.60,361.30 L341.90,360.19 Z" fill="#45b8cf"/><path d="M300.90,354.24 L309.10,355.43 L309.10,365.75 L300.90,364.56 Z" fill="#36b2cb"/><path d="M309.10,355.43 L317.30,356.62 L317.30,366.94 L309.10,365.75 Z" fill="#36b2cb"/><path d="M317.30,356.62 L325.50,357.81 L325.50,368.13 L317.30,366.94 Z" fill="#f4e45a"/><path d="M325.50,357.81 L333.70,359.00 L333.70,369.32 L325.50,368.13 Z" fill="#36b2cb"/><path d="M333.70,359.00 L341.90,360.19 L341.90,370.50 L333.70,369.32 Z" fill="#36b2cb"/><path d="M341.90,360.19 L349.60,361.30 L349.60,371.62 L341.90,370.50 Z" fill="#45b8cf"/><path d="M300.90,364.56 L309.10,365.75 L309.10,376.07 L300.90,374.88 Z" fill="#cfdeed"/><path d="M309.10,365.75 L317.30,366.94 L317.30,377.26 L309.10,376.07 Z" fill="#36b2cb"/><path d="M317.30,366.94 L325.50,368.13 L325.50,378.45 L317.30,377.26 Z" fill="#36b2cb"/><path d="M325.50,368.13 L333.70,369.32 L333.70,379.64 L325.50,378.45 Z" fill="#36b2cb"/><path d="M333.70,369.32 L341.90,370.50 L341.90,380.82 L333.70,379.64 Z" fill="#36b2cb"/><path d="M341.90,370.50 L349.60,371.62 L349.60,381.94 L341.90,380.82 Z" fill="#45b8cf"/><path d="M300.90,374.88 L309.10,376.07 L309.10,386.39 L300.90,385.20 Z" fill="#cfdeed"/><path d="M309.10,376.07 L317.30,377.26 L317.30,387.58 L309.10,386.39 Z" fill="#cfdeed"/><path d="M317.30,377.26 L325.50,378.45 L325.50,388.77 L317.30,387.58 Z" fill="#36b2cb"/><path d="M325.50,378.45 L333.70,379.64 L333.70,389.96 L325.50,388.77 Z" fill="#36b2cb"/><path d="M333.70,379.64 L341.90,380.82 L341.90,391.14 L333.70,389.96 Z" fill="#36b2cb"/><path d="M341.90,380.82 L349.60,381.94 L349.60,392.26 L341.90,391.14 Z" fill="#45b8cf"/><path d="M300.90,385.20 L309.10,386.39 L309.10,396.71 L300.90,395.52 Z" fill="#cfdeed"/><path d="M309.10,386.39 L317.30,387.58 L317.30,397.90 L309.10,396.71 Z" fill="#cfdeed"/><path d="M317.30,387.58 L325.50,388.77 L325.50,399.09 L317.30,397.90 Z" fill="#cfdeed"/><path d="M325.50,388.77 L333.70,389.96 L333.70,400.28 L325.50,399.09 Z" fill="#cfdeed"/><path d="M333.70,389.96 L341.90,391.15 L341.90,401.47 L333.70,400.28 Z" fill="#cfdeed"/><path d="M341.90,391.15 L349.60,392.26 L349.60,402.58 L341.90,401.47 Z" fill="#dce7f2"/><path d="M300.90,395.52 L309.10,396.71 L309.10,407.03 L300.90,405.84 Z" fill="#cfdeed"/><path d="M309.10,396.71 L317.30,397.90 L317.30,408.22 L309.10,407.03 Z" fill="#cfdeed"/><path d="M317.30,397.90 L325.50,399.09 L325.50,409.41 L317.30,408.22 Z" fill="#cfdeed"/><path d="M325.50,399.09 L333.70,400.28 L333.70,410.60 L325.50,409.41 Z" fill="#cfdeed"/><path d="M333.70,400.28 L341.90,401.46 L341.90,411.78 L333.70,410.60 Z" fill="#cfdeed"/><path d="M341.90,401.46 L349.60,402.58 L349.60,412.90 L341.90,411.78 Z" fill="#dce7f2"/><path d="M300.90,405.84 L309.10,407.03 L309.10,417.35 L300.90,416.16 Z" fill="#cfdeed"/><path d="M309.10,407.03 L317.30,408.22 L317.30,418.54 L309.10,417.35 Z" fill="#cfdeed"/><path d="M317.30,408.22 L325.50,409.41 L325.50,419.73 L317.30,418.54 Z" fill="#cfdeed"/><path d="M325.50,409.41 L333.70,410.60 L333.70,420.92 L325.50,419.73 Z" fill="#cfdeed"/><path d="M333.70,410.60 L341.90,411.79 L341.90,422.11 L333.70,420.92 Z" fill="#cfdeed"/><path d="M341.90,411.79 L349.60,412.90 L349.60,423.22 L341.90,422.11 Z" fill="#dce7f2"/><line x1="300.90" y1="230.40" x2="349.60" y2="237.46" stroke="#3e4a56" stroke-width="1.0" stroke-opacity="0.85"/><line x1="300.90" y1="240.72" x2="349.60" y2="247.78" stroke="#3e4a56" stroke-width="1.0" stroke-opacity="0.85"/><line x1="300.90" y1="251.04" x2="349.60" y2="258.10" stroke="#3e4a56" stroke-width="1.0" stroke-opacity="0.85"/><line x1="300.90" y1="261.36" x2="349.60" y2="268.42" stroke="#3e4a56" stroke-width="1.0" stroke-opacity="0.85"/><line x1="300.90" y1="271.68" x2="349.60" y2="278.74" stroke="#3e4a56" stroke-width="1.0" stroke-opacity="0.85"/><line x1="300.90" y1="282.00" x2="349.60" y2="289.06" stroke="#3e4a56" stroke-width="1.0" stroke-opacity="0.85"/><line x1="300.90" y1="292.32" x2="349.60" y2="299.38" stroke="#3e4a56" stroke-width="1.0" stroke-opacity="0.85"/><line x1="300.90" y1="302.64" x2="349.60" y2="309.70" stroke="#3e4a56" stroke-width="1.0" stroke-opacity="0.85"/><line x1="300.90" y1="312.96" x2="349.60" y2="320.02" stroke="#3e4a56" stroke-width="1.0" stroke-opacity="0.85"/><line x1="300.90" y1="323.28" x2="349.60" y2="330.34" stroke="#3e4a56" stroke-width="1.0" stroke-opacity="0.85"/><line x1="300.90" y1="333.60" x2="349.60" y2="340.66" stroke="#3e4a56" stroke-width="1.0" stroke-opacity="0.85"/><line x1="300.90" y1="343.92" x2="349.60" y2="350.98" stroke="#3e4a56" stroke-width="1.0" stroke-opacity="0.85"/><line x1="300.90" y1="354.24" x2="349.60" y2="361.30" stroke="#3e4a56" stroke-width="1.0" stroke-opacity="0.85"/><line x1="300.90" y1="364.56" x2="349.60" y2="371.62" stroke="#3e4a56" stroke-width="1.0" stroke-opacity="0.85"/><line x1="300.90" y1="374.88" x2="349.60" y2="381.94" stroke="#3e4a56" stroke-width="1.0" stroke-opacity="0.85"/><line x1="300.90" y1="385.20" x2="349.60" y2="392.26" stroke="#3e4a56" stroke-width="1.0" stroke-opacity="0.85"/><line x1="300.90" y1="395.52" x2="349.60" y2="402.58" stroke="#3e4a56" stroke-width="1.0" stroke-opacity="0.85"/><line x1="300.90" y1="405.84" x2="349.60" y2="412.90" stroke="#3e4a56" stroke-width="1.0" stroke-opacity="0.85"/><line x1="300.90" y1="416.16" x2="349.60" y2="423.22" stroke="#3e4a56" stroke-width="1.0" stroke-opacity="0.85"/><line x1="300.90" y1="230.40" x2="300.90" y2="416.16" stroke="#4a5866" stroke-width="0.5" stroke-opacity="0.5"/><line x1="309.10" y1="231.59" x2="309.10" y2="417.35" stroke="#4a5866" stroke-width="0.5" stroke-opacity="0.5"/><line x1="317.30" y1="232.78" x2="317.30" y2="418.54" stroke="#4a5866" stroke-width="0.5" stroke-opacity="0.5"/><line x1="325.50" y1="233.97" x2="325.50" y2="419.73" stroke="#4a5866" stroke-width="0.5" stroke-opacity="0.5"/><line x1="333.70" y1="235.16" x2="333.70" y2="420.92" stroke="#4a5866" stroke-width="0.5" stroke-opacity="0.5"/><line x1="341.90" y1="236.34" x2="341.90" y2="422.10" stroke="#4a5866" stroke-width="0.5" stroke-opacity="0.5"/><line x1="349.60" y1="237.46" x2="349.60" y2="423.22" stroke="#4a5866" stroke-width="0.5" stroke-opacity="0.5"/><path d="M300.90,228.40 L349.60,236.26 L349.60,237.46 L300.90,230.40 Z" fill="#7f8b96"/><path d="M226.60000000000002,234.4 L231.60000000000002,243.4615 L231.60000000000002,425.2215 L226.60000000000002,423.2215 Z" fill="#9aa0a6" opacity="0.5" filter="url(#blur1)"/><path d="M176.90,230.40 L185.10,231.59 L185.10,241.91 L176.90,240.72 Z" fill="#cfdeed"/><path d="M185.10,231.59 L193.30,232.78 L193.30,243.10 L185.10,241.91 Z" fill="#cfdeed"/><path d="M193.30,232.78 L201.50,233.97 L201.50,244.29 L193.30,243.10 Z" fill="#cfdeed"/><path d="M201.50,233.97 L209.70,235.16 L209.70,245.48 L201.50,244.29 Z" fill="#cfdeed"/><path d="M209.70,235.16 L217.90,236.34 L217.90,246.66 L209.70,245.48 Z" fill="#cfdeed"/><path d="M217.90,236.34 L225.60,237.46 L225.60,247.78 L217.90,246.66 Z" fill="#dce7f2"/><path d="M176.90,240.72 L185.10,241.91 L185.10,252.23 L176.90,251.04 Z" fill="#cfdeed"/><path d="M185.10,241.91 L193.30,243.10 L193.30,253.42 L185.10,252.23 Z" fill="#cfdeed"/><path d="M193.30,243.10 L201.50,244.29 L201.50,254.61 L193.30,253.42 Z" fill="#cfdeed"/><path d="M201.50,244.29 L209.70,245.48 L209.70,255.80 L201.50,254.61 Z" fill="#cfdeed"/><path d="M209.70,245.48 L217.90,246.66 L217.90,256.99 L209.70,255.80 Z" fill="#cfdeed"/><path d="M217.90,246.66 L225.60,247.78 L225.60,258.10 L217.90,256.99 Z" fill="#dce7f2"/><path d="M176.90,251.04 L185.10,252.23 L185.10,262.55 L176.90,261.36 Z" fill="#cfdeed"/><path d="M185.10,252.23 L193.30,253.42 L193.30,263.74 L185.10,262.55 Z" fill="#cfdeed"/><path d="M193.30,253.42 L201.50,254.61 L201.50,264.93 L193.30,263.74 Z" fill="#cfdeed"/><path d="M201.50,254.61 L209.70,255.80 L209.70,266.12 L201.50,264.93 Z" fill="#cfdeed"/><path d="M209.70,255.80 L217.90,256.99 L217.90,267.31 L209.70,266.12 Z" fill="#cfdeed"/><path d="M217.90,256.99 L225.60,258.10 L225.60,268.42 L217.90,267.31 Z" fill="#dce7f2"/><path d="M176.90,261.36 L185.10,262.55 L185.10,272.87 L176.90,271.68 Z" fill="#36b2cb"/><path d="M185.10,262.55 L193.30,263.74 L193.30,274.06 L185.10,272.87 Z" fill="#cfdeed"/><path d="M193.30,263.74 L201.50,264.93 L201.50,275.25 L193.30,274.06 Z" fill="#cfdeed"/><path d="M201.50,264.93 L209.70,266.12 L209.70,276.44 L201.50,275.25 Z" fill="#cfdeed"/><path d="M209.70,266.12 L217.90,267.31 L217.90,277.62 L209.70,276.44 Z" fill="#cfdeed"/><path d="M217.90,267.31 L225.60,268.42 L225.60,278.74 L217.90,277.62 Z" fill="#dce7f2"/><path d="M176.90,271.68 L185.10,272.87 L185.10,283.19 L176.90,282.00 Z" fill="#36b2cb"/><path d="M185.10,272.87 L193.30,274.06 L193.30,284.38 L185.10,283.19 Z" fill="#36b2cb"/><path d="M193.30,274.06 L201.50,275.25 L201.50,285.57 L193.30,284.38 Z" fill="#cfdeed"/><path d="M201.50,275.25 L209.70,276.44 L209.70,286.76 L201.50,285.57 Z" fill="#cfdeed"/><path d="M209.70,276.44 L217.90,277.62 L217.90,287.94 L209.70,286.76 Z" fill="#cfdeed"/><path d="M217.90,277.62 L225.60,278.74 L225.60,289.06 L217.90,287.94 Z" fill="#dce7f2"/><path d="M176.90,282.00 L185.10,283.19 L185.10,293.51 L176.90,292.32 Z" fill="#36b2cb"/><path d="M185.10,283.19 L193.30,284.38 L193.30,294.70 L185.10,293.51 Z" fill="#36b2cb"/><path d="M193.30,284.38 L201.50,285.57 L201.50,295.89 L193.30,294.70 Z" fill="#36b2cb"/><path d="M201.50,285.57 L209.70,286.76 L209.70,297.08 L201.50,295.89 Z" fill="#36b2cb"/><path d="M209.70,286.76 L217.90,287.94 L217.90,298.26 L209.70,297.08 Z" fill="#cfdeed"/><path d="M217.90,287.94 L225.60,289.06 L225.60,299.38 L217.90,298.26 Z" fill="#dce7f2"/><path d="M176.90,292.32 L185.10,293.51 L185.10,303.83 L176.90,302.64 Z" fill="#36b2cb"/><path d="M185.10,293.51 L193.30,294.70 L193.30,305.02 L185.10,303.83 Z" fill="#a0bc38"/><path d="M193.30,294.70 L201.50,295.89 L201.50,306.21 L193.30,305.02 Z" fill="#a0bc38"/><path d="M201.50,295.89 L209.70,297.08 L209.70,307.40 L201.50,306.21 Z" fill="#a0bc38"/><path d="M209.70,297.08 L217.90,298.26 L217.90,308.58 L209.70,307.40 Z" fill="#36b2cb"/><path d="M217.90,298.26 L225.60,299.38 L225.60,309.70 L217.90,308.58 Z" fill="#45b8cf"/><path d="M176.90,302.64 L185.10,303.83 L185.10,314.15 L176.90,312.96 Z" fill="#36b2cb"/><path d="M185.10,303.83 L193.30,305.02 L193.30,315.34 L185.10,314.15 Z" fill="#a0bc38"/><path d="M193.30,305.02 L201.50,306.21 L201.50,316.53 L193.30,315.34 Z" fill="#f4e45a"/><path d="M201.50,306.21 L209.70,307.40 L209.70,317.72 L201.50,316.53 Z" fill="#f4e45a"/><path d="M209.70,307.40 L217.90,308.58 L217.90,318.90 L209.70,317.72 Z" fill="#36b2cb"/><path d="M217.90,308.58 L225.60,309.70 L225.60,320.02 L217.90,318.90 Z" fill="#45b8cf"/><path d="M176.90,312.96 L185.10,314.15 L185.10,324.47 L176.90,323.28 Z" fill="#36b2cb"/><path d="M185.10,314.15 L193.30,315.34 L193.30,325.66 L185.10,324.47 Z" fill="#f4e45a"/><path d="M193.30,315.34 L201.50,316.53 L201.50,326.85 L193.30,325.66 Z" fill="#dc6a2a"/><path d="M201.50,316.53 L209.70,317.72 L209.70,328.04 L201.50,326.85 Z" fill="#dc6a2a"/><path d="M209.70,317.72 L217.90,318.91 L217.90,329.23 L209.70,328.04 Z" fill="#36b2cb"/><path d="M217.90,318.91 L225.60,320.02 L225.60,330.34 L217.90,329.23 Z" fill="#45b8cf"/><path d="M176.90,323.28 L185.10,324.47 L185.10,334.79 L176.90,333.60 Z" fill="#36b2cb"/><path d="M185.10,324.47 L193.30,325.66 L193.30,335.98 L185.10,334.79 Z" fill="#a0bc38"/><path d="M193.30,325.66 L201.50,326.85 L201.50,337.17 L193.30,335.98 Z" fill="#c62a28"/><path d="M201.50,326.85 L209.70,328.04 L209.70,338.36 L201.50,337.17 Z" fill="#c62a28"/><path d="M209.70,328.04 L217.90,329.22 L217.90,339.54 L209.70,338.36 Z" fill="#a0bc38"/><path d="M217.90,329.22 L225.60,330.34 L225.60,340.66 L217.90,339.54 Z" fill="#a6c244"/><path d="M176.90,333.60 L185.10,334.79 L185.10,345.11 L176.90,343.92 Z" fill="#36b2cb"/><path d="M185.10,334.79 L193.30,335.98 L193.30,346.30 L185.10,345.11 Z" fill="#a0bc38"/><path d="M193.30,335.98 L201.50,337.17 L201.50,347.49 L193.30,346.30 Z" fill="#dc6a2a"/><path d="M201.50,337.17 L209.70,338.36 L209.70,348.68 L201.50,347.49 Z" fill="#dc6a2a"/><path d="M209.70,338.36 L217.90,339.55 L217.90,349.87 L209.70,348.68 Z" fill="#f4e45a"/><path d="M217.90,339.55 L225.60,340.66 L225.60,350.98 L217.90,349.87 Z" fill="#f5e76a"/><path d="M176.90,343.92 L185.10,345.11 L185.10,355.43 L176.90,354.24 Z" fill="#36b2cb"/><path d="M185.10,345.11 L193.30,346.30 L193.30,356.62 L185.10,355.43 Z" fill="#36b2cb"/><path d="M193.30,346.30 L201.50,347.49 L201.50,357.81 L193.30,356.62 Z" fill="#f4e45a"/><path d="M201.50,347.49 L209.70,348.68 L209.70,359.00 L201.50,357.81 Z" fill="#36b2cb"/><path d="M209.70,348.68 L217.90,349.87 L217.90,360.19 L209.70,359.00 Z" fill="#36b2cb"/><path d="M217.90,349.87 L225.60,350.98 L225.60,361.30 L217.90,360.19 Z" fill="#45b8cf"/><path d="M176.90,354.24 L185.10,355.43 L185.10,365.75 L176.90,364.56 Z" fill="#36b2cb"/><path d="M185.10,355.43 L193.30,356.62 L193.30,366.94 L185.10,365.75 Z" fill="#36b2cb"/><path d="M193.30,356.62 L201.50,357.81 L201.50,368.13 L193.30,366.94 Z" fill="#f4e45a"/><path d="M201.50,357.81 L209.70,359.00 L209.70,369.32 L201.50,368.13 Z" fill="#36b2cb"/><path d="M209.70,359.00 L217.90,360.19 L217.90,370.50 L209.70,369.32 Z" fill="#36b2cb"/><path d="M217.90,360.19 L225.60,361.30 L225.60,371.62 L217.90,370.50 Z" fill="#45b8cf"/><path d="M176.90,364.56 L185.10,365.75 L185.10,376.07 L176.90,374.88 Z" fill="#cfdeed"/><path d="M185.10,365.75 L193.30,366.94 L193.30,377.26 L185.10,376.07 Z" fill="#36b2cb"/><path d="M193.30,366.94 L201.50,368.13 L201.50,378.45 L193.30,377.26 Z" fill="#36b2cb"/><path d="M201.50,368.13 L209.70,369.32 L209.70,379.64 L201.50,378.45 Z" fill="#36b2cb"/><path d="M209.70,369.32 L217.90,370.50 L217.90,380.82 L209.70,379.64 Z" fill="#36b2cb"/><path d="M217.90,370.50 L225.60,371.62 L225.60,381.94 L217.90,380.82 Z" fill="#45b8cf"/><path d="M176.90,374.88 L185.10,376.07 L185.10,386.39 L176.90,385.20 Z" fill="#cfdeed"/><path d="M185.10,376.07 L193.30,377.26 L193.30,387.58 L185.10,386.39 Z" fill="#cfdeed"/><path d="M193.30,377.26 L201.50,378.45 L201.50,388.77 L193.30,387.58 Z" fill="#36b2cb"/><path d="M201.50,378.45 L209.70,379.64 L209.70,389.96 L201.50,388.77 Z" fill="#36b2cb"/><path d="M209.70,379.64 L217.90,380.82 L217.90,391.14 L209.70,389.96 Z" fill="#36b2cb"/><path d="M217.90,380.82 L225.60,381.94 L225.60,392.26 L217.90,391.14 Z" fill="#45b8cf"/><path d="M176.90,385.20 L185.10,386.39 L185.10,396.71 L176.90,395.52 Z" fill="#cfdeed"/><path d="M185.10,386.39 L193.30,387.58 L193.30,397.90 L185.10,396.71 Z" fill="#cfdeed"/><path d="M193.30,387.58 L201.50,388.77 L201.50,399.09 L193.30,397.90 Z" fill="#cfdeed"/><path d="M201.50,388.77 L209.70,389.96 L209.70,400.28 L201.50,399.09 Z" fill="#cfdeed"/><path d="M209.70,389.96 L217.90,391.15 L217.90,401.47 L209.70,400.28 Z" fill="#cfdeed"/><path d="M217.90,391.15 L225.60,392.26 L225.60,402.58 L217.90,401.47 Z" fill="#dce7f2"/><path d="M176.90,395.52 L185.10,396.71 L185.10,407.03 L176.90,405.84 Z" fill="#cfdeed"/><path d="M185.10,396.71 L193.30,397.90 L193.30,408.22 L185.10,407.03 Z" fill="#cfdeed"/><path d="M193.30,397.90 L201.50,399.09 L201.50,409.41 L193.30,408.22 Z" fill="#cfdeed"/><path d="M201.50,399.09 L209.70,400.28 L209.70,410.60 L201.50,409.41 Z" fill="#cfdeed"/><path d="M209.70,400.28 L217.90,401.46 L217.90,411.78 L209.70,410.60 Z" fill="#cfdeed"/><path d="M217.90,401.46 L225.60,402.58 L225.60,412.90 L217.90,411.78 Z" fill="#dce7f2"/><path d="M176.90,405.84 L185.10,407.03 L185.10,417.35 L176.90,416.16 Z" fill="#cfdeed"/><path d="M185.10,407.03 L193.30,408.22 L193.30,418.54 L185.10,417.35 Z" fill="#cfdeed"/><path d="M193.30,408.22 L201.50,409.41 L201.50,419.73 L193.30,418.54 Z" fill="#cfdeed"/><path d="M201.50,409.41 L209.70,410.60 L209.70,420.92 L201.50,419.73 Z" fill="#cfdeed"/><path d="M209.70,410.60 L217.90,411.79 L217.90,422.11 L209.70,420.92 Z" fill="#cfdeed"/><path d="M217.90,411.79 L225.60,412.90 L225.60,423.22 L217.90,422.11 Z" fill="#dce7f2"/><line x1="176.90" y1="230.40" x2="225.60" y2="237.46" stroke="#3e4a56" stroke-width="1.0" stroke-opacity="0.85"/><line x1="176.90" y1="240.72" x2="225.60" y2="247.78" stroke="#3e4a56" stroke-width="1.0" stroke-opacity="0.85"/><line x1="176.90" y1="251.04" x2="225.60" y2="258.10" stroke="#3e4a56" stroke-width="1.0" stroke-opacity="0.85"/><line x1="176.90" y1="261.36" x2="225.60" y2="268.42" stroke="#3e4a56" stroke-width="1.0" stroke-opacity="0.85"/><line x1="176.90" y1="271.68" x2="225.60" y2="278.74" stroke="#3e4a56" stroke-width="1.0" stroke-opacity="0.85"/><line x1="176.90" y1="282.00" x2="225.60" y2="289.06" stroke="#3e4a56" stroke-width="1.0" stroke-opacity="0.85"/><line x1="176.90" y1="292.32" x2="225.60" y2="299.38" stroke="#3e4a56" stroke-width="1.0" stroke-opacity="0.85"/><line x1="176.90" y1="302.64" x2="225.60" y2="309.70" stroke="#3e4a56" stroke-width="1.0" stroke-opacity="0.85"/><line x1="176.90" y1="312.96" x2="225.60" y2="320.02" stroke="#3e4a56" stroke-width="1.0" stroke-opacity="0.85"/><line x1="176.90" y1="323.28" x2="225.60" y2="330.34" stroke="#3e4a56" stroke-width="1.0" stroke-opacity="0.85"/><line x1="176.90" y1="333.60" x2="225.60" y2="340.66" stroke="#3e4a56" stroke-width="1.0" stroke-opacity="0.85"/><line x1="176.90" y1="343.92" x2="225.60" y2="350.98" stroke="#3e4a56" stroke-width="1.0" stroke-opacity="0.85"/><line x1="176.90" y1="354.24" x2="225.60" y2="361.30" stroke="#3e4a56" stroke-width="1.0" stroke-opacity="0.85"/><line x1="176.90" y1="364.56" x2="225.60" y2="371.62" stroke="#3e4a56" stroke-width="1.0" stroke-opacity="0.85"/><line x1="176.90" y1="374.88" x2="225.60" y2="381.94" stroke="#3e4a56" stroke-width="1.0" stroke-opacity="0.85"/><line x1="176.90" y1="385.20" x2="225.60" y2="392.26" stroke="#3e4a56" stroke-width="1.0" stroke-opacity="0.85"/><line x1="176.90" y1="395.52" x2="225.60" y2="402.58" stroke="#3e4a56" stroke-width="1.0" stroke-opacity="0.85"/><line x1="176.90" y1="405.84" x2="225.60" y2="412.90" stroke="#3e4a56" stroke-width="1.0" stroke-opacity="0.85"/><line x1="176.90" y1="416.16" x2="225.60" y2="423.22" stroke="#3e4a56" stroke-width="1.0" stroke-opacity="0.85"/><line x1="176.90" y1="230.40" x2="176.90" y2="416.16" stroke="#4a5866" stroke-width="0.5" stroke-opacity="0.5"/><line x1="185.10" y1="231.59" x2="185.10" y2="417.35" stroke="#4a5866" stroke-width="0.5" stroke-opacity="0.5"/><line x1="193.30" y1="232.78" x2="193.30" y2="418.54" stroke="#4a5866" stroke-width="0.5" stroke-opacity="0.5"/><line x1="201.50" y1="233.97" x2="201.50" y2="419.73" stroke="#4a5866" stroke-width="0.5" stroke-opacity="0.5"/><line x1="209.70" y1="235.16" x2="209.70" y2="420.92" stroke="#4a5866" stroke-width="0.5" stroke-opacity="0.5"/><line x1="217.90" y1="236.34" x2="217.90" y2="422.10" stroke="#4a5866" stroke-width="0.5" stroke-opacity="0.5"/><line x1="225.60" y1="237.46" x2="225.60" y2="423.22" stroke="#4a5866" stroke-width="0.5" stroke-opacity="0.5"/><path d="M176.90,228.40 L225.60,236.26 L225.60,237.46 L176.90,230.40 Z" fill="#7f8b96"/><path d="M288.8,234.5 L293.8,243.5615 L293.8,425.3215 L288.8,423.3215 Z" fill="#9aa0a6" opacity="0.5" filter="url(#blur1)"/><path d="M239.10,230.50 L247.30,231.69 L247.30,242.01 L239.10,240.82 Z" fill="#cfdeed"/><path d="M247.30,231.69 L255.50,232.88 L255.50,243.20 L247.30,242.01 Z" fill="#cfdeed"/><path d="M255.50,232.88 L263.70,234.07 L263.70,244.39 L255.50,243.20 Z" fill="#cfdeed"/><path d="M263.70,234.07 L271.90,235.26 L271.90,245.58 L263.70,244.39 Z" fill="#cfdeed"/><path d="M271.90,235.26 L280.10,236.44 L280.10,246.76 L271.90,245.58 Z" fill="#cfdeed"/><path d="M280.10,236.44 L287.80,237.56 L287.80,247.88 L280.10,246.76 Z" fill="#dce7f2"/><path d="M239.10,240.82 L247.30,242.01 L247.30,252.33 L239.10,251.14 Z" fill="#cfdeed"/><path d="M247.30,242.01 L255.50,243.20 L255.50,253.52 L247.30,252.33 Z" fill="#cfdeed"/><path d="M255.50,243.20 L263.70,244.39 L263.70,254.71 L255.50,253.52 Z" fill="#cfdeed"/><path d="M263.70,244.39 L271.90,245.58 L271.90,255.90 L263.70,254.71 Z" fill="#cfdeed"/><path d="M271.90,245.58 L280.10,246.76 L280.10,257.08 L271.90,255.90 Z" fill="#cfdeed"/><path d="M280.10,246.76 L287.80,247.88 L287.80,258.20 L280.10,257.08 Z" fill="#dce7f2"/><path d="M239.10,251.14 L247.30,252.33 L247.30,262.65 L239.10,261.46 Z" fill="#cfdeed"/><path d="M247.30,252.33 L255.50,253.52 L255.50,263.84 L247.30,262.65 Z" fill="#cfdeed"/><path d="M255.50,253.52 L263.70,254.71 L263.70,265.03 L255.50,263.84 Z" fill="#cfdeed"/><path d="M263.70,254.71 L271.90,255.90 L271.90,266.22 L263.70,265.03 Z" fill="#cfdeed"/><path d="M271.90,255.90 L280.10,257.08 L280.10,267.40 L271.90,266.22 Z" fill="#cfdeed"/><path d="M280.10,257.08 L287.80,258.20 L287.80,268.52 L280.10,267.40 Z" fill="#dce7f2"/><path d="M239.10,261.46 L247.30,262.65 L247.30,272.97 L239.10,271.78 Z" fill="#36b2cb"/><path d="M247.30,262.65 L255.50,263.84 L255.50,274.16 L247.30,272.97 Z" fill="#cfdeed"/><path d="M255.50,263.84 L263.70,265.03 L263.70,275.35 L255.50,274.16 Z" fill="#cfdeed"/><path d="M263.70,265.03 L271.90,266.22 L271.90,276.54 L263.70,275.35 Z" fill="#cfdeed"/><path d="M271.90,266.22 L280.10,267.40 L280.10,277.72 L271.90,276.54 Z" fill="#cfdeed"/><path d="M280.10,267.40 L287.80,268.52 L287.80,278.84 L280.10,277.72 Z" fill="#dce7f2"/><path d="M239.10,271.78 L247.30,272.97 L247.30,283.29 L239.10,282.10 Z" fill="#36b2cb"/><path d="M247.30,272.97 L255.50,274.16 L255.50,284.48 L247.30,283.29 Z" fill="#36b2cb"/><path d="M255.50,274.16 L263.70,275.35 L263.70,285.67 L255.50,284.48 Z" fill="#cfdeed"/><path d="M263.70,275.35 L271.90,276.54 L271.90,286.86 L263.70,285.67 Z" fill="#cfdeed"/><path d="M271.90,276.54 L280.10,277.72 L280.10,288.04 L271.90,286.86 Z" fill="#cfdeed"/><path d="M280.10,277.72 L287.80,278.84 L287.80,289.16 L280.10,288.04 Z" fill="#dce7f2"/><path d="M239.10,282.10 L247.30,283.29 L247.30,293.61 L239.10,292.42 Z" fill="#36b2cb"/><path d="M247.30,283.29 L255.50,284.48 L255.50,294.80 L247.30,293.61 Z" fill="#36b2cb"/><path d="M255.50,284.48 L263.70,285.67 L263.70,295.99 L255.50,294.80 Z" fill="#36b2cb"/><path d="M263.70,285.67 L271.90,286.86 L271.90,297.18 L263.70,295.99 Z" fill="#36b2cb"/><path d="M271.90,286.86 L280.10,288.05 L280.10,298.37 L271.90,297.18 Z" fill="#cfdeed"/><path d="M280.10,288.05 L287.80,289.16 L287.80,299.48 L280.10,298.37 Z" fill="#dce7f2"/><path d="M239.10,292.42 L247.30,293.61 L247.30,303.93 L239.10,302.74 Z" fill="#36b2cb"/><path d="M247.30,293.61 L255.50,294.80 L255.50,305.12 L247.30,303.93 Z" fill="#a0bc38"/><path d="M255.50,294.80 L263.70,295.99 L263.70,306.31 L255.50,305.12 Z" fill="#a0bc38"/><path d="M263.70,295.99 L271.90,297.18 L271.90,307.50 L263.70,306.31 Z" fill="#a0bc38"/><path d="M271.90,297.18 L280.10,298.37 L280.10,308.69 L271.90,307.50 Z" fill="#36b2cb"/><path d="M280.10,298.37 L287.80,299.48 L287.80,309.80 L280.10,308.69 Z" fill="#45b8cf"/><path d="M239.10,302.74 L247.30,303.93 L247.30,314.25 L239.10,313.06 Z" fill="#36b2cb"/><path d="M247.30,303.93 L255.50,305.12 L255.50,315.44 L247.30,314.25 Z" fill="#a0bc38"/><path d="M255.50,305.12 L263.70,306.31 L263.70,316.63 L255.50,315.44 Z" fill="#f4e45a"/><path d="M263.70,306.31 L271.90,307.50 L271.90,317.82 L263.70,316.63 Z" fill="#f4e45a"/><path d="M271.90,307.50 L280.10,308.69 L280.10,319.00 L271.90,317.82 Z" fill="#36b2cb"/><path d="M280.10,308.69 L287.80,309.80 L287.80,320.12 L280.10,319.00 Z" fill="#45b8cf"/><path d="M239.10,313.06 L247.30,314.25 L247.30,324.57 L239.10,323.38 Z" fill="#36b2cb"/><path d="M247.30,314.25 L255.50,315.44 L255.50,325.76 L247.30,324.57 Z" fill="#f4e45a"/><path d="M255.50,315.44 L263.70,316.63 L263.70,326.95 L255.50,325.76 Z" fill="#dc6a2a"/><path d="M263.70,316.63 L271.90,317.82 L271.90,328.14 L263.70,326.95 Z" fill="#dc6a2a"/><path d="M271.90,317.82 L280.10,319.00 L280.10,329.32 L271.90,328.14 Z" fill="#36b2cb"/><path d="M280.10,319.00 L287.80,320.12 L287.80,330.44 L280.10,329.32 Z" fill="#45b8cf"/><path d="M239.10,323.38 L247.30,324.57 L247.30,334.89 L239.10,333.70 Z" fill="#36b2cb"/><path d="M247.30,324.57 L255.50,325.76 L255.50,336.08 L247.30,334.89 Z" fill="#a0bc38"/><path d="M255.50,325.76 L263.70,326.95 L263.70,337.27 L255.50,336.08 Z" fill="#c62a28"/><path d="M263.70,326.95 L271.90,328.14 L271.90,338.46 L263.70,337.27 Z" fill="#c62a28"/><path d="M271.90,328.14 L280.10,329.32 L280.10,339.64 L271.90,338.46 Z" fill="#a0bc38"/><path d="M280.10,329.32 L287.80,330.44 L287.80,340.76 L280.10,339.64 Z" fill="#a6c244"/><path d="M239.10,333.70 L247.30,334.89 L247.30,345.21 L239.10,344.02 Z" fill="#36b2cb"/><path d="M247.30,334.89 L255.50,336.08 L255.50,346.40 L247.30,345.21 Z" fill="#a0bc38"/><path d="M255.50,336.08 L263.70,337.27 L263.70,347.59 L255.50,346.40 Z" fill="#dc6a2a"/><path d="M263.70,337.27 L271.90,338.46 L271.90,348.78 L263.70,347.59 Z" fill="#dc6a2a"/><path d="M271.90,338.46 L280.10,339.64 L280.10,349.96 L271.90,348.78 Z" fill="#f4e45a"/><path d="M280.10,339.64 L287.80,340.76 L287.80,351.08 L280.10,349.96 Z" fill="#f5e76a"/><path d="M239.10,344.02 L247.30,345.21 L247.30,355.53 L239.10,354.34 Z" fill="#36b2cb"/><path d="M247.30,345.21 L255.50,346.40 L255.50,356.72 L247.30,355.53 Z" fill="#36b2cb"/><path d="M255.50,346.40 L263.70,347.59 L263.70,357.91 L255.50,356.72 Z" fill="#f4e45a"/><path d="M263.70,347.59 L271.90,348.78 L271.90,359.10 L263.70,357.91 Z" fill="#36b2cb"/><path d="M271.90,348.78 L280.10,349.96 L280.10,360.28 L271.90,359.10 Z" fill="#36b2cb"/><path d="M280.10,349.96 L287.80,351.08 L287.80,361.40 L280.10,360.28 Z" fill="#45b8cf"/><path d="M239.10,354.34 L247.30,355.53 L247.30,365.85 L239.10,364.66 Z" fill="#36b2cb"/><path d="M247.30,355.53 L255.50,356.72 L255.50,367.04 L247.30,365.85 Z" fill="#36b2cb"/><path d="M255.50,356.72 L263.70,357.91 L263.70,368.23 L255.50,367.04 Z" fill="#f4e45a"/><path d="M263.70,357.91 L271.90,359.10 L271.90,369.42 L263.70,368.23 Z" fill="#36b2cb"/><path d="M271.90,359.10 L280.10,360.29 L280.10,370.61 L271.90,369.42 Z" fill="#36b2cb"/><path d="M280.10,360.29 L287.80,361.40 L287.80,371.72 L280.10,370.61 Z" fill="#45b8cf"/><path d="M239.10,364.66 L247.30,365.85 L247.30,376.17 L239.10,374.98 Z" fill="#cfdeed"/><path d="M247.30,365.85 L255.50,367.04 L255.50,377.36 L247.30,376.17 Z" fill="#36b2cb"/><path d="M255.50,367.04 L263.70,368.23 L263.70,378.55 L255.50,377.36 Z" fill="#36b2cb"/><path d="M263.70,368.23 L271.90,369.42 L271.90,379.74 L263.70,378.55 Z" fill="#36b2cb"/><path d="M271.90,369.42 L280.10,370.60 L280.10,380.92 L271.90,379.74 Z" fill="#36b2cb"/><path d="M280.10,370.60 L287.80,371.72 L287.80,382.04 L280.10,380.92 Z" fill="#45b8cf"/><path d="M239.10,374.98 L247.30,376.17 L247.30,386.49 L239.10,385.30 Z" fill="#cfdeed"/><path d="M247.30,376.17 L255.50,377.36 L255.50,387.68 L247.30,386.49 Z" fill="#cfdeed"/><path d="M255.50,377.36 L263.70,378.55 L263.70,388.87 L255.50,387.68 Z" fill="#36b2cb"/><path d="M263.70,378.55 L271.90,379.74 L271.90,390.06 L263.70,388.87 Z" fill="#36b2cb"/><path d="M271.90,379.74 L280.10,380.93 L280.10,391.25 L271.90,390.06 Z" fill="#36b2cb"/><path d="M280.10,380.93 L287.80,382.04 L287.80,392.36 L280.10,391.25 Z" fill="#45b8cf"/><path d="M239.10,385.30 L247.30,386.49 L247.30,396.81 L239.10,395.62 Z" fill="#cfdeed"/><path d="M247.30,386.49 L255.50,387.68 L255.50,398.00 L247.30,396.81 Z" fill="#cfdeed"/><path d="M255.50,387.68 L263.70,388.87 L263.70,399.19 L255.50,398.00 Z" fill="#cfdeed"/><path d="M263.70,388.87 L271.90,390.06 L271.90,400.38 L263.70,399.19 Z" fill="#cfdeed"/><path d="M271.90,390.06 L280.10,391.25 L280.10,401.56 L271.90,400.38 Z" fill="#cfdeed"/><path d="M280.10,391.25 L287.80,392.36 L287.80,402.68 L280.10,401.56 Z" fill="#dce7f2"/><path d="M239.10,395.62 L247.30,396.81 L247.30,407.13 L239.10,405.94 Z" fill="#cfdeed"/><path d="M247.30,396.81 L255.50,398.00 L255.50,408.32 L247.30,407.13 Z" fill="#cfdeed"/><path d="M255.50,398.00 L263.70,399.19 L263.70,409.51 L255.50,408.32 Z" fill="#cfdeed"/><path d="M263.70,399.19 L271.90,400.38 L271.90,410.70 L263.70,409.51 Z" fill="#cfdeed"/><path d="M271.90,400.38 L280.10,401.56 L280.10,411.88 L271.90,410.70 Z" fill="#cfdeed"/><path d="M280.10,401.56 L287.80,402.68 L287.80,413.00 L280.10,411.88 Z" fill="#dce7f2"/><path d="M239.10,405.94 L247.30,407.13 L247.30,417.45 L239.10,416.26 Z" fill="#cfdeed"/><path d="M247.30,407.13 L255.50,408.32 L255.50,418.64 L247.30,417.45 Z" fill="#cfdeed"/><path d="M255.50,408.32 L263.70,409.51 L263.70,419.83 L255.50,418.64 Z" fill="#cfdeed"/><path d="M263.70,409.51 L271.90,410.70 L271.90,421.02 L263.70,419.83 Z" fill="#cfdeed"/><path d="M271.90,410.70 L280.10,411.88 L280.10,422.20 L271.90,421.02 Z" fill="#cfdeed"/><path d="M280.10,411.88 L287.80,413.00 L287.80,423.32 L280.10,422.20 Z" fill="#dce7f2"/><line x1="239.10" y1="230.50" x2="287.80" y2="237.56" stroke="#3e4a56" stroke-width="1.0" stroke-opacity="0.85"/><line x1="239.10" y1="240.82" x2="287.80" y2="247.88" stroke="#3e4a56" stroke-width="1.0" stroke-opacity="0.85"/><line x1="239.10" y1="251.14" x2="287.80" y2="258.20" stroke="#3e4a56" stroke-width="1.0" stroke-opacity="0.85"/><line x1="239.10" y1="261.46" x2="287.80" y2="268.52" stroke="#3e4a56" stroke-width="1.0" stroke-opacity="0.85"/><line x1="239.10" y1="271.78" x2="287.80" y2="278.84" stroke="#3e4a56" stroke-width="1.0" stroke-opacity="0.85"/><line x1="239.10" y1="282.10" x2="287.80" y2="289.16" stroke="#3e4a56" stroke-width="1.0" stroke-opacity="0.85"/><line x1="239.10" y1="292.42" x2="287.80" y2="299.48" stroke="#3e4a56" stroke-width="1.0" stroke-opacity="0.85"/><line x1="239.10" y1="302.74" x2="287.80" y2="309.80" stroke="#3e4a56" stroke-width="1.0" stroke-opacity="0.85"/><line x1="239.10" y1="313.06" x2="287.80" y2="320.12" stroke="#3e4a56" stroke-width="1.0" stroke-opacity="0.85"/><line x1="239.10" y1="323.38" x2="287.80" y2="330.44" stroke="#3e4a56" stroke-width="1.0" stroke-opacity="0.85"/><line x1="239.10" y1="333.70" x2="287.80" y2="340.76" stroke="#3e4a56" stroke-width="1.0" stroke-opacity="0.85"/><line x1="239.10" y1="344.02" x2="287.80" y2="351.08" stroke="#3e4a56" stroke-width="1.0" stroke-opacity="0.85"/><line x1="239.10" y1="354.34" x2="287.80" y2="361.40" stroke="#3e4a56" stroke-width="1.0" stroke-opacity="0.85"/><line x1="239.10" y1="364.66" x2="287.80" y2="371.72" stroke="#3e4a56" stroke-width="1.0" stroke-opacity="0.85"/><line x1="239.10" y1="374.98" x2="287.80" y2="382.04" stroke="#3e4a56" stroke-width="1.0" stroke-opacity="0.85"/><line x1="239.10" y1="385.30" x2="287.80" y2="392.36" stroke="#3e4a56" stroke-width="1.0" stroke-opacity="0.85"/><line x1="239.10" y1="395.62" x2="287.80" y2="402.68" stroke="#3e4a56" stroke-width="1.0" stroke-opacity="0.85"/><line x1="239.10" y1="405.94" x2="287.80" y2="413.00" stroke="#3e4a56" stroke-width="1.0" stroke-opacity="0.85"/><line x1="239.10" y1="416.26" x2="287.80" y2="423.32" stroke="#3e4a56" stroke-width="1.0" stroke-opacity="0.85"/><line x1="239.10" y1="230.50" x2="239.10" y2="416.26" stroke="#4a5866" stroke-width="0.5" stroke-opacity="0.5"/><line x1="247.30" y1="231.69" x2="247.30" y2="417.45" stroke="#4a5866" stroke-width="0.5" stroke-opacity="0.5"/><line x1="255.50" y1="232.88" x2="255.50" y2="418.64" stroke="#4a5866" stroke-width="0.5" stroke-opacity="0.5"/><line x1="263.70" y1="234.07" x2="263.70" y2="419.83" stroke="#4a5866" stroke-width="0.5" stroke-opacity="0.5"/><line x1="271.90" y1="235.26" x2="271.90" y2="421.02" stroke="#4a5866" stroke-width="0.5" stroke-opacity="0.5"/><line x1="280.10" y1="236.44" x2="280.10" y2="422.20" stroke="#4a5866" stroke-width="0.5" stroke-opacity="0.5"/><line x1="287.80" y1="237.56" x2="287.80" y2="423.32" stroke="#4a5866" stroke-width="0.5" stroke-opacity="0.5"/><path d="M239.10,228.50 L287.80,236.36 L287.80,237.56 L239.10,230.50 Z" fill="#7f8b96"/><path d="M79.3,230.5 L79.3,304.8 M79.3,341.7 L79.3,416.8 M77,416.8 L81.6,416.8 M77,230.5 L81.6,230.5" fill="none" stroke="#eccd7e" stroke-width="1.4"/><text transform="translate(82.3,331.5) rotate(-90)" font-family='"Liberation Sans", sans-serif' font-size="7.6" fill="#444" textLength="16.5" lengthAdjust="spacingAndGlyphs">Time</text><text transform="translate(88,428) skewY(11.5)" font-family='"Liberation Sans", sans-serif' font-size="8.2" fill="#444" textLength="33" lengthAdjust="spacingAndGlyphs">Receivers</text><circle cx="84" cy="424.6" r="0.9" fill="#e9b746"/><path d="M122.5,432.6 L213.3,432.6 M262,432.6 L377,432.6 M377,430.5 L377,434.7 M124.5,430.8 L122.5,432.6 L124.5,434.4" fill="none" stroke="#e9c466" stroke-width="1.3"/><text x="218" y="434.7" font-family='"Liberation Sans", sans-serif' font-size="8.6" fill="#444" textLength="41" lengthAdjust="spacingAndGlyphs">Transmitters</text></svg></body></html>
